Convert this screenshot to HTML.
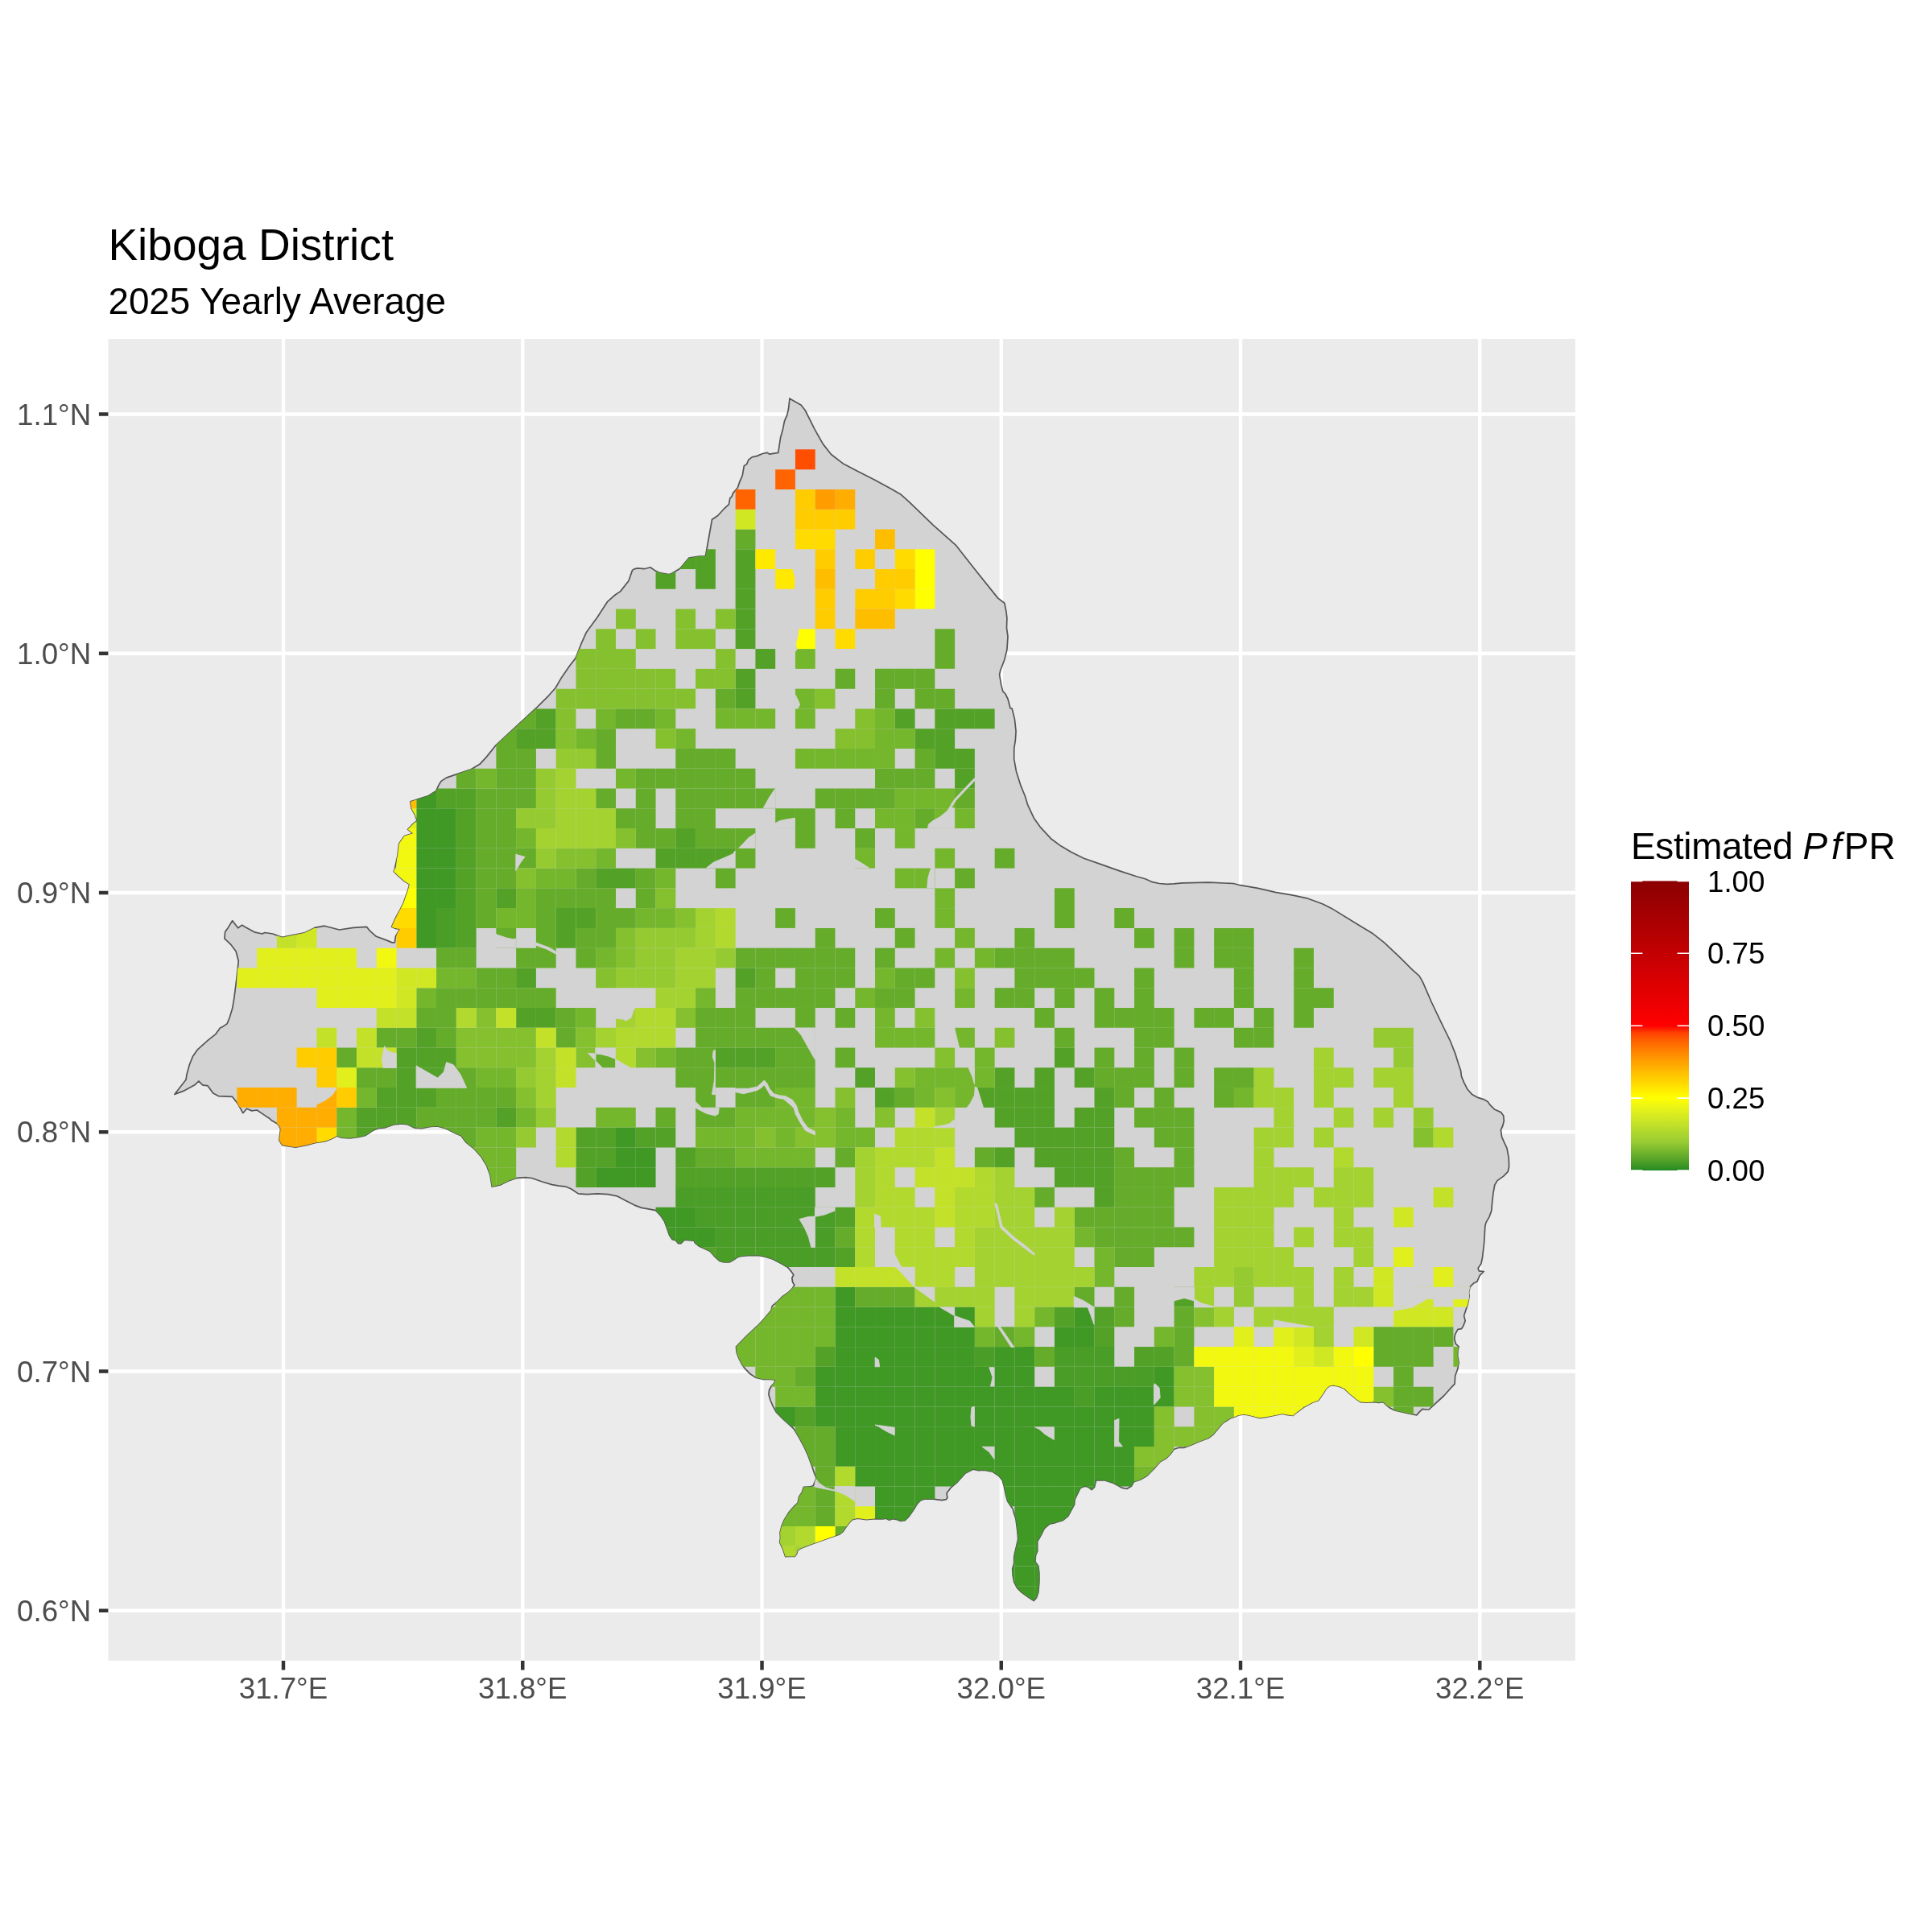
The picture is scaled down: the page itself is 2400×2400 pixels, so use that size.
<!DOCTYPE html><html><head><meta charset="utf-8"><title>Kiboga District</title>
<style>html,body{margin:0;padding:0;background:#fff}svg{display:block}text{font-family:"Liberation Sans",sans-serif;filter:grayscale(1)}</style></head><body>
<svg width="2400" height="2400" viewBox="0 0 2400 2400">
<defs><linearGradient id="lg" x1="0" y1="1" x2="0" y2="0">
<stop offset="0" stop-color="#228B22"/>
<stop offset="0.025" stop-color="#479B26"/>
<stop offset="0.05" stop-color="#64AC2A"/>
<stop offset="0.075" stop-color="#7FBC2E"/>
<stop offset="0.1" stop-color="#9ACD32"/>
<stop offset="0.125" stop-color="#ABD52E"/>
<stop offset="0.15" stop-color="#BCDE2A"/>
<stop offset="0.175" stop-color="#CDE625"/>
<stop offset="0.2" stop-color="#DEEE1D"/>
<stop offset="0.225" stop-color="#EEF713"/>
<stop offset="0.25" stop-color="#FFFF00"/>
<stop offset="0.275" stop-color="#FFED00"/>
<stop offset="0.3" stop-color="#FFDB00"/>
<stop offset="0.325" stop-color="#FFC800"/>
<stop offset="0.35" stop-color="#FFB500"/>
<stop offset="0.375" stop-color="#FFA100"/>
<stop offset="0.4" stop-color="#FF8D00"/>
<stop offset="0.425" stop-color="#FF7700"/>
<stop offset="0.45" stop-color="#FF5F00"/>
<stop offset="0.475" stop-color="#FF4100"/>
<stop offset="0.5" stop-color="#FF0000"/>
<stop offset="0.525" stop-color="#F90000"/>
<stop offset="0.55" stop-color="#F30001"/>
<stop offset="0.575" stop-color="#ED0001"/>
<stop offset="0.6" stop-color="#E70001"/>
<stop offset="0.625" stop-color="#E10001"/>
<stop offset="0.65" stop-color="#DB0001"/>
<stop offset="0.675" stop-color="#D50002"/>
<stop offset="0.7" stop-color="#CF0002"/>
<stop offset="0.725" stop-color="#C90002"/>
<stop offset="0.75" stop-color="#C30002"/>
<stop offset="0.775" stop-color="#BE0002"/>
<stop offset="0.8" stop-color="#B80002"/>
<stop offset="0.825" stop-color="#B20002"/>
<stop offset="0.85" stop-color="#AC0002"/>
<stop offset="0.875" stop-color="#A70002"/>
<stop offset="0.9" stop-color="#A10002"/>
<stop offset="0.925" stop-color="#9B0002"/>
<stop offset="0.95" stop-color="#960001"/>
<stop offset="0.975" stop-color="#900001"/>
<stop offset="1" stop-color="#8B0000"/>
</linearGradient>
<clipPath id="cp"><path d="M980.7 495.1 L995.2 503.2 L1000.4 510 L1011.8 532.8 L1022.2 551.4 L1032.5 564.5 L1047 575.7 L1065.6 585.6 L1086.3 595.9 L1107 607.3 L1119.5 614.6 L1129.8 623.9 L1158.8 651.8 L1187.8 677.7 L1210.6 706.7 L1239.5 742.9 L1247.8 749.2 L1249.9 759.5 L1250.9 767.8 L1250.5 780.2 L1252 790.6 L1250.9 807.1 L1247.8 819.5 L1242.7 833 L1241.6 838.2 L1243.7 850.6 L1245.8 858.9 L1248.9 862 L1252 868.2 L1255.1 880 L1257.1 880 L1260.4 893.1 L1262.1 908.3 L1261.4 919.2 L1259.7 930.1 L1259.7 943.2 L1262.5 958.4 L1268 975.9 L1273.4 989 L1276.7 999.9 L1284.3 1016.2 L1292 1027.1 L1306.1 1042.3 L1318.1 1051.1 L1331.2 1058.7 L1346.4 1066.3 L1368.2 1073.9 L1390 1081.6 L1411.8 1088.8 L1422.7 1091.8 L1431.4 1095.7 L1440.1 1097.5 L1449.9 1098.3 L1458 1097.9 L1468.9 1096.8 L1501.6 1096.2 L1532.1 1097.5 L1540.8 1099.7 L1562.6 1103.4 L1584.4 1108.4 L1606.2 1112.1 L1623.6 1115.8 L1643.2 1123 L1654.1 1128.4 L1686.8 1148.5 L1704.2 1158.9 L1719.5 1170.9 L1739.1 1189.4 L1754.4 1204.7 L1763.1 1212.3 L1767.4 1219.9 L1778.3 1245 L1789.2 1267.9 L1793.6 1277 L1801.2 1292.3 L1807.7 1308.6 L1812.1 1322.8 L1814.7 1330.4 L1815.4 1336.9 L1818.6 1344.6 L1823 1353.3 L1828.5 1359.4 L1835 1363.1 L1843.7 1365.9 L1848.1 1368.5 L1851.3 1372.9 L1856.8 1378.3 L1864.4 1381.6 L1867.7 1386 L1868.3 1392.5 L1866.6 1399 L1864.4 1403.4 L1865.5 1412.1 L1868.8 1419.7 L1872 1426.3 L1874.2 1438.3 L1874.6 1449.2 L1873.1 1455.7 L1867.7 1461.1 L1860 1466.6 L1856.8 1472 L1855 1481.8 L1853.5 1494.9 L1852.9 1503.6 L1850.2 1511.3 L1845.9 1518.9 L1844.8 1523.2 L1843.7 1542.9 L1841.5 1562.5 L1839.8 1570.1 L1836.1 1575.5 L1837.2 1578.8 L1843.3 1579.5 L1838.3 1584.3 L1835 1591.9 L1830.6 1594.1 L1826.3 1598.4 L1824.5 1605 L1825.2 1610.4 L1823 1621.3 L1820.8 1627.8 L1818.6 1634.4 L1820.2 1640.9 L1817.6 1647.5 L1815.4 1650.7 L1811 1651.4 L1807.7 1657.3 L1806.7 1662.7 L1808.2 1669.2 L1812.1 1672.9 L1811 1677.4 L1810.6 1683.9 L1812.1 1692.6 L1810.6 1701.3 L1807.7 1709 L1807.1 1719.2 L1802.3 1724.2 L1793.6 1734 L1782.7 1743.8 L1775.1 1751 L1771.8 1751 L1767 1750.4 L1763.1 1754.1 L1759.8 1758 L1747.8 1755.4 L1732.6 1751.9 L1727.1 1749.3 L1722.8 1746 L1718.4 1741.6 L1713 1742.3 L1706.4 1741.6 L1697.7 1742.1 L1690.1 1741.6 L1684.6 1737.9 L1675.9 1730.7 L1670.5 1725.3 L1662.8 1722 L1656.3 1720.9 L1651.9 1721.4 L1647.6 1724.9 L1643.2 1731.8 L1637.8 1739.5 L1630.2 1742.3 L1619.3 1748.2 L1610.5 1754.7 L1606.2 1758.4 L1599.6 1757.6 L1593.1 1756.2 L1582.2 1758.4 L1571.3 1760.6 L1564.8 1761.3 L1558.2 1759.7 L1551.7 1758 L1545.2 1756.9 L1538.6 1758 L1527.7 1762.3 L1519 1767.8 L1512.5 1775.4 L1507 1782 L1500.5 1786.8 L1489.6 1790.7 L1479.8 1795 L1471.1 1798.3 L1464.5 1798.3 L1458 1800.5 L1454.3 1805.9 L1448.9 1811.4 L1441.2 1815.7 L1433.6 1824.4 L1424.9 1833.2 L1416.2 1838.2 L1408.5 1840.8 L1405.3 1846.2 L1399.8 1849.5 L1394.4 1848.4 L1383.5 1842.5 L1372.6 1839 L1361.7 1838.6 L1359.5 1847.3 L1356.2 1850.6 L1351.9 1847.3 L1347.5 1846.2 L1342.1 1848.4 L1335.1 1862.6 L1334.5 1869.1 L1326.8 1883.3 L1320.3 1888.7 L1311.6 1891.3 L1303.9 1893.1 L1297.4 1898.5 L1293 1907.3 L1288.7 1914.9 L1288.7 1926.9 L1286.5 1932.3 L1285.9 1939.9 L1289.8 1945.4 L1290.9 1954.1 L1290.9 1965 L1289.8 1978.1 L1287.6 1984.6 L1284.3 1988.5 L1276.7 1983.5 L1269.1 1978.1 L1263.6 1972.6 L1259.7 1965 L1258.2 1957.4 L1257.7 1948.7 L1259.7 1942.1 L1259.7 1934.5 L1260.4 1930.1 L1262.5 1921.4 L1264.7 1911.6 L1263.6 1899.6 L1261.9 1886.6 L1259.3 1878.9 L1258.2 1874.6 L1256 1871.3 L1251.6 1864.8 L1249.5 1857.1 L1247.3 1846.2 L1245.1 1838.6 L1240.7 1833.2 L1233.1 1828.2 L1222.2 1826.2 L1215.7 1826.6 L1209.2 1825.1 L1199.3 1829.9 L1189.5 1840.8 L1180.8 1848.4 L1176 1855 L1176.9 1860.4 L1175.4 1862.6 L1169.9 1863.7 L1159 1862.1 L1148.1 1862.1 L1143.8 1863.7 L1139.4 1868 L1134 1876.7 L1128.5 1884.4 L1124.2 1888.7 L1118.7 1889.4 L1114.4 1887.6 L1108.9 1886.6 L1104.6 1888.3 L1100.2 1886.1 L1096.9 1887 L1087.1 1886.6 L1076.2 1887.6 L1065.3 1886.1 L1058.8 1887.6 L1055.5 1890.9 L1051.2 1896.4 L1046.8 1902.9 L1042.4 1906.2 L1037 1907.9 L1023.5 1912.7 L1008.2 1918.2 L995.2 1923.2 L990.8 1925.8 L989.7 1930.1 L987.5 1933.4 L982.1 1933.4 L975.6 1933.6 L974.5 1930.1 L972.3 1923.6 L968.6 1916 L969.5 1910.5 L969 1904 L971.2 1895.3 L974.5 1887.6 L979.9 1878.9 L986.5 1871.3 L991.2 1866.9 L992.6 1859.3 L996.3 1853.9 L998.4 1847.3 L1007.2 1846.9 L1010.4 1845.2 L1012.2 1840.8 L1014.3 1836.4 L1011.5 1829.9 L1008.2 1820.1 L1003.9 1808.1 L999.5 1798.3 L993 1786.3 L986.5 1775.4 L982.1 1771.1 L973.4 1763.4 L964.7 1754.7 L960.3 1747.1 L957 1739.5 L954.9 1732.3 L955.5 1727 L958.1 1722 L962 1717.7 L962.9 1714 L955.9 1713.5 L947.2 1713.3 L938.5 1711.1 L932 1706.8 L925.4 1700.2 L921.1 1693.7 L917.8 1687.2 L915 1679.5 L914.5 1673 L921.1 1666 L929.8 1657.3 L942.9 1645.3 L951.6 1635.5 L958.1 1627.8 L959.2 1622.4 L964.7 1618 L972.3 1610.4 L978.8 1606 L984.3 1600.6 L986.9 1596.2 L984.7 1593 L983.8 1587.5 L985.8 1583.8 L983.2 1579.9 L978.8 1574.5 L971.2 1570.1 L960.3 1564.2 L951.6 1561.4 L942.9 1559.6 L932 1559.4 L921.1 1560.3 L915.6 1562 L910.2 1565.7 L905.8 1567.9 L899.3 1567.9 L893.8 1566.4 L887.3 1560.3 L881.9 1554.2 L868.8 1548.3 L863.3 1543.9 L862.2 1541.1 L855.7 1540.7 L850.3 1540.2 L845.9 1544.6 L842.6 1544.6 L839.4 1540.7 L835 1539.6 L831.7 1534.6 L828.5 1525.4 L825.2 1516.7 L820.8 1510.2 L814.7 1503.6 L805.6 1501.9 L796.9 1500.4 L788.2 1497.1 L777.3 1491.6 L766.4 1485.8 L755.5 1483.6 L742.4 1482.9 L729.3 1483.6 L718.4 1482.9 L709.7 1477 L703.2 1474.2 L694.4 1473.1 L685.7 1471.6 L672.7 1467.7 L660.7 1463.5 L653 1462.7 L642.1 1463.3 L632.3 1466.6 L622.5 1471.6 L616 1473.1 L611.2 1474.2 L609 1460 L604.7 1448.1 L598.1 1437.2 L589.4 1427.4 L578.5 1418.6 L573.1 1411 L565.5 1407.7 L554.6 1402.3 L543.7 1399 L534.9 1399.5 L524 1401.6 L515.3 1401.2 L506.6 1396.9 L500.1 1395.8 L489.2 1396.9 L478.3 1400.8 L469.6 1401.6 L463 1404.5 L454.3 1410.4 L445.6 1412.5 L434.7 1413.8 L423.8 1413.2 L418.4 1411 L412.9 1414.3 L404.2 1417.6 L391.1 1419.7 L380.2 1422.6 L367.2 1425.2 L350.8 1422.6 L346.9 1416.5 L348.6 1402.3 L345.4 1396.4 L337.7 1392.1 L334.5 1389.2 L327.9 1384.9 L319.2 1379 L312.7 1379.9 L306.6 1377.2 L301.8 1382.7 L295.2 1370.7 L288.7 1362.4 L271.3 1361.6 L264.7 1358.1 L258.2 1348.9 L251.7 1347.8 L246.9 1343 L241.9 1347.8 L227.7 1355.4 L216.8 1359.4 L231 1341.3 L232 1334.7 L235.3 1322.8 L239.7 1311.9 L245.1 1304.2 L258.2 1292.3 L268 1284.6 L273.4 1277 L277.4 1274.9 L282.2 1271.6 L285.4 1263.5 L288.7 1252.6 L290.9 1239.6 L294.2 1213.4 L296.3 1193.8 L293.1 1181.8 L286.5 1173.1 L278.9 1165.9 L279.6 1157.8 L283.3 1152.4 L288.7 1143.7 L295.7 1152.8 L300.7 1149.1 L304 1151.3 L315.9 1157.8 L325.7 1160 L329 1158.5 L338.8 1160 L350.2 1164.4 L378 1158.9 L391.1 1152.4 L403.1 1150.2 L421.6 1155 L439.1 1152.4 L455.4 1151.3 L459.8 1156.7 L467.4 1163.3 L480.5 1168.1 L487 1170.9 L490.3 1170.9 L491.4 1163.3 L496.8 1154.1 L491.4 1153.5 L486.6 1151.3 L491.4 1140.4 L496.8 1130.6 L501.2 1121.9 L506.6 1106.6 L508.8 1098.6 L502.3 1094.6 L495.7 1088.8 L489.2 1082.7 L490.3 1079.4 L494 1063 L495.7 1048.2 L502.3 1038.6 L513.2 1035.2 L506.6 1030.4 L513.2 1023.4 L518.2 1019.5 L515.3 1011.8 L511 1004.2 L509.9 995.9 L517.5 993.3 L532.3 988.5 L541.9 982.4 L544.7 975.9 L548 970.4 L554.6 966.1 L565.5 962.4 L585.1 955.8 L596 949.3 L604.7 939.9 L616 925.8 L665.7 880 L671.6 874.1 L681.4 864.3 L690.1 854.5 L697.7 841.4 L707.5 827.2 L715.2 817.4 L722.8 797.8 L728.2 785.8 L742.4 766.2 L754.4 747.7 L764.2 739 L770.7 734.6 L781 721.5 L785.5 708.4 L788.2 706.7 L792.5 705.8 L800.1 706.7 L807.8 704.7 L813.2 708.4 L819.7 711.7 L830.6 713.5 L833.9 712.8 L844.8 706.3 L855.7 693.2 L868.8 691 L876.4 691 L884.5 645.3 L886.2 644.2 L891.7 640.5 L899.3 632.2 L905.4 626.7 L906.9 618.7 L909.1 616.9 L910.6 612.6 L916.3 606 L918.9 598.4 L922.2 590.8 L924.3 578.8 L927.6 576.6 L929.8 571.2 L934.2 567.9 L940.7 566.4 L947.2 563.5 L953.3 562.4 L955.9 564.2 L966.8 562.4 L969.5 543.9 L972.3 534.1 L974.5 523.2 L977.7 515.6 L979.5 508 L981 494.9Z"/></clipPath>
<clipPath id="pp"><rect x="134.4" y="421" width="1822.5" height="1641.9"/></clipPath>
</defs>
<rect width="2400" height="2400" fill="#fff"/>
<rect x="134.4" y="421" width="1822.5" height="1641.9" fill="#EBEBEB"/>
<path d="M352 421V2062.9M134.4 514.4H1956.9M649.26 421V2062.9M134.4 811.66H1956.9M946.52 421V2062.9M134.4 1108.92H1956.9M1243.78 421V2062.9M134.4 1406.18H1956.9M1541.04 421V2062.9M134.4 1703.44H1956.9M1838.3 421V2062.9M134.4 2000.7H1956.9" stroke="#fff" stroke-width="4.45" fill="none"/>
<path d="M980.7 495.1 L995.2 503.2 L1000.4 510 L1011.8 532.8 L1022.2 551.4 L1032.5 564.5 L1047 575.7 L1065.6 585.6 L1086.3 595.9 L1107 607.3 L1119.5 614.6 L1129.8 623.9 L1158.8 651.8 L1187.8 677.7 L1210.6 706.7 L1239.5 742.9 L1247.8 749.2 L1249.9 759.5 L1250.9 767.8 L1250.5 780.2 L1252 790.6 L1250.9 807.1 L1247.8 819.5 L1242.7 833 L1241.6 838.2 L1243.7 850.6 L1245.8 858.9 L1248.9 862 L1252 868.2 L1255.1 880 L1257.1 880 L1260.4 893.1 L1262.1 908.3 L1261.4 919.2 L1259.7 930.1 L1259.7 943.2 L1262.5 958.4 L1268 975.9 L1273.4 989 L1276.7 999.9 L1284.3 1016.2 L1292 1027.1 L1306.1 1042.3 L1318.1 1051.1 L1331.2 1058.7 L1346.4 1066.3 L1368.2 1073.9 L1390 1081.6 L1411.8 1088.8 L1422.7 1091.8 L1431.4 1095.7 L1440.1 1097.5 L1449.9 1098.3 L1458 1097.9 L1468.9 1096.8 L1501.6 1096.2 L1532.1 1097.5 L1540.8 1099.7 L1562.6 1103.4 L1584.4 1108.4 L1606.2 1112.1 L1623.6 1115.8 L1643.2 1123 L1654.1 1128.4 L1686.8 1148.5 L1704.2 1158.9 L1719.5 1170.9 L1739.1 1189.4 L1754.4 1204.7 L1763.1 1212.3 L1767.4 1219.9 L1778.3 1245 L1789.2 1267.9 L1793.6 1277 L1801.2 1292.3 L1807.7 1308.6 L1812.1 1322.8 L1814.7 1330.4 L1815.4 1336.9 L1818.6 1344.6 L1823 1353.3 L1828.5 1359.4 L1835 1363.1 L1843.7 1365.9 L1848.1 1368.5 L1851.3 1372.9 L1856.8 1378.3 L1864.4 1381.6 L1867.7 1386 L1868.3 1392.5 L1866.6 1399 L1864.4 1403.4 L1865.5 1412.1 L1868.8 1419.7 L1872 1426.3 L1874.2 1438.3 L1874.6 1449.2 L1873.1 1455.7 L1867.7 1461.1 L1860 1466.6 L1856.8 1472 L1855 1481.8 L1853.5 1494.9 L1852.9 1503.6 L1850.2 1511.3 L1845.9 1518.9 L1844.8 1523.2 L1843.7 1542.9 L1841.5 1562.5 L1839.8 1570.1 L1836.1 1575.5 L1837.2 1578.8 L1843.3 1579.5 L1838.3 1584.3 L1835 1591.9 L1830.6 1594.1 L1826.3 1598.4 L1824.5 1605 L1825.2 1610.4 L1823 1621.3 L1820.8 1627.8 L1818.6 1634.4 L1820.2 1640.9 L1817.6 1647.5 L1815.4 1650.7 L1811 1651.4 L1807.7 1657.3 L1806.7 1662.7 L1808.2 1669.2 L1812.1 1672.9 L1811 1677.4 L1810.6 1683.9 L1812.1 1692.6 L1810.6 1701.3 L1807.7 1709 L1807.1 1719.2 L1802.3 1724.2 L1793.6 1734 L1782.7 1743.8 L1775.1 1751 L1771.8 1751 L1767 1750.4 L1763.1 1754.1 L1759.8 1758 L1747.8 1755.4 L1732.6 1751.9 L1727.1 1749.3 L1722.8 1746 L1718.4 1741.6 L1713 1742.3 L1706.4 1741.6 L1697.7 1742.1 L1690.1 1741.6 L1684.6 1737.9 L1675.9 1730.7 L1670.5 1725.3 L1662.8 1722 L1656.3 1720.9 L1651.9 1721.4 L1647.6 1724.9 L1643.2 1731.8 L1637.8 1739.5 L1630.2 1742.3 L1619.3 1748.2 L1610.5 1754.7 L1606.2 1758.4 L1599.6 1757.6 L1593.1 1756.2 L1582.2 1758.4 L1571.3 1760.6 L1564.8 1761.3 L1558.2 1759.7 L1551.7 1758 L1545.2 1756.9 L1538.6 1758 L1527.7 1762.3 L1519 1767.8 L1512.5 1775.4 L1507 1782 L1500.5 1786.8 L1489.6 1790.7 L1479.8 1795 L1471.1 1798.3 L1464.5 1798.3 L1458 1800.5 L1454.3 1805.9 L1448.9 1811.4 L1441.2 1815.7 L1433.6 1824.4 L1424.9 1833.2 L1416.2 1838.2 L1408.5 1840.8 L1405.3 1846.2 L1399.8 1849.5 L1394.4 1848.4 L1383.5 1842.5 L1372.6 1839 L1361.7 1838.6 L1359.5 1847.3 L1356.2 1850.6 L1351.9 1847.3 L1347.5 1846.2 L1342.1 1848.4 L1335.1 1862.6 L1334.5 1869.1 L1326.8 1883.3 L1320.3 1888.7 L1311.6 1891.3 L1303.9 1893.1 L1297.4 1898.5 L1293 1907.3 L1288.7 1914.9 L1288.7 1926.9 L1286.5 1932.3 L1285.9 1939.9 L1289.8 1945.4 L1290.9 1954.1 L1290.9 1965 L1289.8 1978.1 L1287.6 1984.6 L1284.3 1988.5 L1276.7 1983.5 L1269.1 1978.1 L1263.6 1972.6 L1259.7 1965 L1258.2 1957.4 L1257.7 1948.7 L1259.7 1942.1 L1259.7 1934.5 L1260.4 1930.1 L1262.5 1921.4 L1264.7 1911.6 L1263.6 1899.6 L1261.9 1886.6 L1259.3 1878.9 L1258.2 1874.6 L1256 1871.3 L1251.6 1864.8 L1249.5 1857.1 L1247.3 1846.2 L1245.1 1838.6 L1240.7 1833.2 L1233.1 1828.2 L1222.2 1826.2 L1215.7 1826.6 L1209.2 1825.1 L1199.3 1829.9 L1189.5 1840.8 L1180.8 1848.4 L1176 1855 L1176.9 1860.4 L1175.4 1862.6 L1169.9 1863.7 L1159 1862.1 L1148.1 1862.1 L1143.8 1863.7 L1139.4 1868 L1134 1876.7 L1128.5 1884.4 L1124.2 1888.7 L1118.7 1889.4 L1114.4 1887.6 L1108.9 1886.6 L1104.6 1888.3 L1100.2 1886.1 L1096.9 1887 L1087.1 1886.6 L1076.2 1887.6 L1065.3 1886.1 L1058.8 1887.6 L1055.5 1890.9 L1051.2 1896.4 L1046.8 1902.9 L1042.4 1906.2 L1037 1907.9 L1023.5 1912.7 L1008.2 1918.2 L995.2 1923.2 L990.8 1925.8 L989.7 1930.1 L987.5 1933.4 L982.1 1933.4 L975.6 1933.6 L974.5 1930.1 L972.3 1923.6 L968.6 1916 L969.5 1910.5 L969 1904 L971.2 1895.3 L974.5 1887.6 L979.9 1878.9 L986.5 1871.3 L991.2 1866.9 L992.6 1859.3 L996.3 1853.9 L998.4 1847.3 L1007.2 1846.9 L1010.4 1845.2 L1012.2 1840.8 L1014.3 1836.4 L1011.5 1829.9 L1008.2 1820.1 L1003.9 1808.1 L999.5 1798.3 L993 1786.3 L986.5 1775.4 L982.1 1771.1 L973.4 1763.4 L964.7 1754.7 L960.3 1747.1 L957 1739.5 L954.9 1732.3 L955.5 1727 L958.1 1722 L962 1717.7 L962.9 1714 L955.9 1713.5 L947.2 1713.3 L938.5 1711.1 L932 1706.8 L925.4 1700.2 L921.1 1693.7 L917.8 1687.2 L915 1679.5 L914.5 1673 L921.1 1666 L929.8 1657.3 L942.9 1645.3 L951.6 1635.5 L958.1 1627.8 L959.2 1622.4 L964.7 1618 L972.3 1610.4 L978.8 1606 L984.3 1600.6 L986.9 1596.2 L984.7 1593 L983.8 1587.5 L985.8 1583.8 L983.2 1579.9 L978.8 1574.5 L971.2 1570.1 L960.3 1564.2 L951.6 1561.4 L942.9 1559.6 L932 1559.4 L921.1 1560.3 L915.6 1562 L910.2 1565.7 L905.8 1567.9 L899.3 1567.9 L893.8 1566.4 L887.3 1560.3 L881.9 1554.2 L868.8 1548.3 L863.3 1543.9 L862.2 1541.1 L855.7 1540.7 L850.3 1540.2 L845.9 1544.6 L842.6 1544.6 L839.4 1540.7 L835 1539.6 L831.7 1534.6 L828.5 1525.4 L825.2 1516.7 L820.8 1510.2 L814.7 1503.6 L805.6 1501.9 L796.9 1500.4 L788.2 1497.1 L777.3 1491.6 L766.4 1485.8 L755.5 1483.6 L742.4 1482.9 L729.3 1483.6 L718.4 1482.9 L709.7 1477 L703.2 1474.2 L694.4 1473.1 L685.7 1471.6 L672.7 1467.7 L660.7 1463.5 L653 1462.7 L642.1 1463.3 L632.3 1466.6 L622.5 1471.6 L616 1473.1 L611.2 1474.2 L609 1460 L604.7 1448.1 L598.1 1437.2 L589.4 1427.4 L578.5 1418.6 L573.1 1411 L565.5 1407.7 L554.6 1402.3 L543.7 1399 L534.9 1399.5 L524 1401.6 L515.3 1401.2 L506.6 1396.9 L500.1 1395.8 L489.2 1396.9 L478.3 1400.8 L469.6 1401.6 L463 1404.5 L454.3 1410.4 L445.6 1412.5 L434.7 1413.8 L423.8 1413.2 L418.4 1411 L412.9 1414.3 L404.2 1417.6 L391.1 1419.7 L380.2 1422.6 L367.2 1425.2 L350.8 1422.6 L346.9 1416.5 L348.6 1402.3 L345.4 1396.4 L337.7 1392.1 L334.5 1389.2 L327.9 1384.9 L319.2 1379 L312.7 1379.9 L306.6 1377.2 L301.8 1382.7 L295.2 1370.7 L288.7 1362.4 L271.3 1361.6 L264.7 1358.1 L258.2 1348.9 L251.7 1347.8 L246.9 1343 L241.9 1347.8 L227.7 1355.4 L216.8 1359.4 L231 1341.3 L232 1334.7 L235.3 1322.8 L239.7 1311.9 L245.1 1304.2 L258.2 1292.3 L268 1284.6 L273.4 1277 L277.4 1274.9 L282.2 1271.6 L285.4 1263.5 L288.7 1252.6 L290.9 1239.6 L294.2 1213.4 L296.3 1193.8 L293.1 1181.8 L286.5 1173.1 L278.9 1165.9 L279.6 1157.8 L283.3 1152.4 L288.7 1143.7 L295.7 1152.8 L300.7 1149.1 L304 1151.3 L315.9 1157.8 L325.7 1160 L329 1158.5 L338.8 1160 L350.2 1164.4 L378 1158.9 L391.1 1152.4 L403.1 1150.2 L421.6 1155 L439.1 1152.4 L455.4 1151.3 L459.8 1156.7 L467.4 1163.3 L480.5 1168.1 L487 1170.9 L490.3 1170.9 L491.4 1163.3 L496.8 1154.1 L491.4 1153.5 L486.6 1151.3 L491.4 1140.4 L496.8 1130.6 L501.2 1121.9 L506.6 1106.6 L508.8 1098.6 L502.3 1094.6 L495.7 1088.8 L489.2 1082.7 L490.3 1079.4 L494 1063 L495.7 1048.2 L502.3 1038.6 L513.2 1035.2 L506.6 1030.4 L513.2 1023.4 L518.2 1019.5 L515.3 1011.8 L511 1004.2 L509.9 995.9 L517.5 993.3 L532.3 988.5 L541.9 982.4 L544.7 975.9 L548 970.4 L554.6 966.1 L565.5 962.4 L585.1 955.8 L596 949.3 L604.7 939.9 L616 925.8 L665.7 880 L671.6 874.1 L681.4 864.3 L690.1 854.5 L697.7 841.4 L707.5 827.2 L715.2 817.4 L722.8 797.8 L728.2 785.8 L742.4 766.2 L754.4 747.7 L764.2 739 L770.7 734.6 L781 721.5 L785.5 708.4 L788.2 706.7 L792.5 705.8 L800.1 706.7 L807.8 704.7 L813.2 708.4 L819.7 711.7 L830.6 713.5 L833.9 712.8 L844.8 706.3 L855.7 693.2 L868.8 691 L876.4 691 L884.5 645.3 L886.2 644.2 L891.7 640.5 L899.3 632.2 L905.4 626.7 L906.9 618.7 L909.1 616.9 L910.6 612.6 L916.3 606 L918.9 598.4 L922.2 590.8 L924.3 578.8 L927.6 576.6 L929.8 571.2 L934.2 567.9 L940.7 566.4 L947.2 563.5 L953.3 562.4 L955.9 564.2 L966.8 562.4 L969.5 543.9 L972.3 534.1 L974.5 523.2 L977.7 515.6 L979.5 508 L981 494.9Z" fill="#D3D3D3" stroke="#555555" stroke-width="1.7" stroke-linejoin="round"/>
<g clip-path="url(#cp)">
<g fill="#4A9D26"><path d="M542.05 1128.12h24.77v24.77h-24.77z"/><path d="M542.05 1152.89h24.77v24.77h-24.77z"/><path d="M839.31 1474.92h24.77v24.77h-24.77z"/><path d="M864.08 1474.92h24.77v24.77h-24.77z"/><path d="M888.85 1474.92h24.77v24.77h-24.77z"/><path d="M913.63 1474.92h24.77v24.77h-24.77z"/><path d="M938.4 1474.92h24.77v24.77h-24.77z"/><path d="M963.17 1474.92h24.77v24.77h-24.77z"/><path d="M987.94 1474.92h24.77v24.77h-24.77z"/><path d="M864.08 1499.69h24.77v24.77h-24.77z"/><path d="M888.85 1499.69h24.77v24.77h-24.77z"/><path d="M913.63 1499.69h24.77v24.77h-24.77z"/><path d="M938.4 1499.69h24.77v24.77h-24.77z"/><path d="M963.17 1499.69h24.77v24.77h-24.77z"/><path d="M987.94 1499.69h24.77v24.77h-24.77z"/><path d="M1012.71 1499.69h24.77v24.77h-24.77z"/><path d="M888.85 1524.46h24.77v24.77h-24.77z"/><path d="M913.63 1524.46h24.77v24.77h-24.77z"/><path d="M938.4 1524.46h24.77v24.77h-24.77z"/><path d="M963.17 1524.46h24.77v24.77h-24.77z"/><path d="M987.94 1524.46h24.77v24.77h-24.77z"/><path d="M1012.71 1524.46h24.77v24.77h-24.77z"/><path d="M888.85 1549.24h24.77v24.77h-24.77z"/><path d="M913.63 1549.24h24.77v24.77h-24.77z"/><path d="M938.4 1549.24h24.77v24.77h-24.77z"/><path d="M963.17 1549.24h24.77v24.77h-24.77z"/><path d="M987.94 1549.24h24.77v24.77h-24.77z"/><path d="M1012.71 1549.24h24.77v24.77h-24.77z"/><path d="M1210.88 1673.1h24.77v24.77h-24.77z"/><path d="M1309.97 1673.1h24.77v24.77h-24.77z"/><path d="M1334.74 1673.1h24.77v24.77h-24.77z"/><path d="M1359.51 1673.1h24.77v24.77h-24.77z"/><path d="M1309.97 1697.87h24.77v24.77h-24.77z"/><path d="M1334.74 1697.87h24.77v24.77h-24.77z"/><path d="M1359.51 1697.87h24.77v24.77h-24.77z"/><path d="M1384.29 1697.87h24.77v24.77h-24.77z"/><path d="M1409.06 1697.87h24.77v24.77h-24.77z"/><path d="M1334.74 1722.64h24.77v24.77h-24.77z"/></g>
<g fill="#409825"><path d="M517.28 979.49h24.77v24.77h-24.77z"/><path d="M517.28 1004.26h24.77v24.77h-24.77z"/><path d="M542.05 1004.26h24.77v24.77h-24.77z"/><path d="M517.28 1029.03h24.77v24.77h-24.77z"/><path d="M542.05 1029.03h24.77v24.77h-24.77z"/><path d="M517.28 1053.8h24.77v24.77h-24.77z"/><path d="M542.05 1053.8h24.77v24.77h-24.77z"/><path d="M517.28 1078.58h24.77v24.77h-24.77z"/><path d="M542.05 1078.58h24.77v24.77h-24.77z"/><path d="M517.28 1103.35h24.77v24.77h-24.77z"/><path d="M542.05 1103.35h24.77v24.77h-24.77z"/><path d="M517.28 1128.12h24.77v24.77h-24.77z"/><path d="M517.28 1152.89h24.77v24.77h-24.77z"/><path d="M765 1400.61h24.77v24.77h-24.77z"/><path d="M765 1425.38h24.77v24.77h-24.77z"/><path d="M789.77 1425.38h24.77v24.77h-24.77z"/><path d="M740.22 1450.15h24.77v24.77h-24.77z"/><path d="M765 1450.15h24.77v24.77h-24.77z"/><path d="M789.77 1450.15h24.77v24.77h-24.77z"/><path d="M814.54 1499.69h24.77v24.77h-24.77z"/><path d="M839.31 1499.69h24.77v24.77h-24.77z"/><path d="M814.54 1524.46h24.77v24.77h-24.77z"/><path d="M839.31 1524.46h24.77v24.77h-24.77z"/><path d="M864.08 1524.46h24.77v24.77h-24.77z"/><path d="M1037.48 1598.78h24.77v24.77h-24.77z"/><path d="M1037.48 1623.55h24.77v24.77h-24.77z"/><path d="M1062.26 1623.55h24.77v24.77h-24.77z"/><path d="M1087.03 1623.55h24.77v24.77h-24.77z"/><path d="M1111.8 1623.55h24.77v24.77h-24.77z"/><path d="M1136.57 1623.55h24.77v24.77h-24.77z"/><path d="M1161.34 1623.55h24.77v24.77h-24.77z"/><path d="M1186.11 1623.55h24.77v24.77h-24.77z"/><path d="M1334.74 1623.55h24.77v24.77h-24.77z"/><path d="M1037.48 1648.32h24.77v24.77h-24.77z"/><path d="M1062.26 1648.32h24.77v24.77h-24.77z"/><path d="M1087.03 1648.32h24.77v24.77h-24.77z"/><path d="M1111.8 1648.32h24.77v24.77h-24.77z"/><path d="M1136.57 1648.32h24.77v24.77h-24.77z"/><path d="M1161.34 1648.32h24.77v24.77h-24.77z"/><path d="M1186.11 1648.32h24.77v24.77h-24.77z"/><path d="M1309.97 1648.32h24.77v24.77h-24.77z"/><path d="M1334.74 1648.32h24.77v24.77h-24.77z"/><path d="M1037.48 1673.1h24.77v24.77h-24.77z"/><path d="M1062.26 1673.1h24.77v24.77h-24.77z"/><path d="M1087.03 1673.1h24.77v24.77h-24.77z"/><path d="M1111.8 1673.1h24.77v24.77h-24.77z"/><path d="M1136.57 1673.1h24.77v24.77h-24.77z"/><path d="M1161.34 1673.1h24.77v24.77h-24.77z"/><path d="M1186.11 1673.1h24.77v24.77h-24.77z"/><path d="M1235.66 1673.1h24.77v24.77h-24.77z"/><path d="M1260.43 1673.1h24.77v24.77h-24.77z"/><path d="M1012.71 1697.87h24.77v24.77h-24.77z"/><path d="M1037.48 1697.87h24.77v24.77h-24.77z"/><path d="M1062.26 1697.87h24.77v24.77h-24.77z"/><path d="M1087.03 1697.87h24.77v24.77h-24.77z"/><path d="M1111.8 1697.87h24.77v24.77h-24.77z"/><path d="M1136.57 1697.87h24.77v24.77h-24.77z"/><path d="M1161.34 1697.87h24.77v24.77h-24.77z"/><path d="M1186.11 1697.87h24.77v24.77h-24.77z"/><path d="M1210.88 1697.87h24.77v24.77h-24.77z"/><path d="M1235.66 1697.87h24.77v24.77h-24.77z"/><path d="M1260.43 1697.87h24.77v24.77h-24.77z"/><path d="M1433.83 1697.87h24.77v24.77h-24.77z"/><path d="M1012.71 1722.64h24.77v24.77h-24.77z"/><path d="M1037.48 1722.64h24.77v24.77h-24.77z"/><path d="M1062.26 1722.64h24.77v24.77h-24.77z"/><path d="M1087.03 1722.64h24.77v24.77h-24.77z"/><path d="M1111.8 1722.64h24.77v24.77h-24.77z"/><path d="M1136.57 1722.64h24.77v24.77h-24.77z"/><path d="M1161.34 1722.64h24.77v24.77h-24.77z"/><path d="M1186.11 1722.64h24.77v24.77h-24.77z"/><path d="M1210.88 1722.64h24.77v24.77h-24.77z"/><path d="M1235.66 1722.64h24.77v24.77h-24.77z"/><path d="M1260.43 1722.64h24.77v24.77h-24.77z"/><path d="M1285.2 1722.64h24.77v24.77h-24.77z"/><path d="M1309.97 1722.64h24.77v24.77h-24.77z"/><path d="M1359.51 1722.64h24.77v24.77h-24.77z"/><path d="M1384.29 1722.64h24.77v24.77h-24.77z"/><path d="M1409.06 1722.64h24.77v24.77h-24.77z"/><path d="M1433.83 1722.64h24.77v24.77h-24.77z"/><path d="M963.17 1747.41h24.77v24.77h-24.77z"/><path d="M1012.71 1747.41h24.77v24.77h-24.77z"/><path d="M1037.48 1747.41h24.77v24.77h-24.77z"/><path d="M1062.26 1747.41h24.77v24.77h-24.77z"/><path d="M1087.03 1747.41h24.77v24.77h-24.77z"/><path d="M1111.8 1747.41h24.77v24.77h-24.77z"/><path d="M1136.57 1747.41h24.77v24.77h-24.77z"/><path d="M1161.34 1747.41h24.77v24.77h-24.77z"/><path d="M1186.11 1747.41h24.77v24.77h-24.77z"/><path d="M1210.88 1747.41h24.77v24.77h-24.77z"/><path d="M1235.66 1747.41h24.77v24.77h-24.77z"/><path d="M1260.43 1747.41h24.77v24.77h-24.77z"/><path d="M1285.2 1747.41h24.77v24.77h-24.77z"/><path d="M1309.97 1747.41h24.77v24.77h-24.77z"/><path d="M1334.74 1747.41h24.77v24.77h-24.77z"/><path d="M1359.51 1747.41h24.77v24.77h-24.77z"/><path d="M1384.29 1747.41h24.77v24.77h-24.77z"/><path d="M1409.06 1747.41h24.77v24.77h-24.77z"/><path d="M1037.48 1772.18h24.77v24.77h-24.77z"/><path d="M1062.26 1772.18h24.77v24.77h-24.77z"/><path d="M1087.03 1772.18h24.77v24.77h-24.77z"/><path d="M1111.8 1772.18h24.77v24.77h-24.77z"/><path d="M1136.57 1772.18h24.77v24.77h-24.77z"/><path d="M1161.34 1772.18h24.77v24.77h-24.77z"/><path d="M1186.11 1772.18h24.77v24.77h-24.77z"/><path d="M1210.88 1772.18h24.77v24.77h-24.77z"/><path d="M1235.66 1772.18h24.77v24.77h-24.77z"/><path d="M1260.43 1772.18h24.77v24.77h-24.77z"/><path d="M1285.2 1772.18h24.77v24.77h-24.77z"/><path d="M1309.97 1772.18h24.77v24.77h-24.77z"/><path d="M1334.74 1772.18h24.77v24.77h-24.77z"/><path d="M1359.51 1772.18h24.77v24.77h-24.77z"/><path d="M1384.29 1772.18h24.77v24.77h-24.77z"/><path d="M1409.06 1772.18h24.77v24.77h-24.77z"/><path d="M1037.48 1796.95h24.77v24.77h-24.77z"/><path d="M1062.26 1796.95h24.77v24.77h-24.77z"/><path d="M1087.03 1796.95h24.77v24.77h-24.77z"/><path d="M1111.8 1796.95h24.77v24.77h-24.77z"/><path d="M1136.57 1796.95h24.77v24.77h-24.77z"/><path d="M1161.34 1796.95h24.77v24.77h-24.77z"/><path d="M1186.11 1796.95h24.77v24.77h-24.77z"/><path d="M1210.88 1796.95h24.77v24.77h-24.77z"/><path d="M1235.66 1796.95h24.77v24.77h-24.77z"/><path d="M1260.43 1796.95h24.77v24.77h-24.77z"/><path d="M1285.2 1796.95h24.77v24.77h-24.77z"/><path d="M1309.97 1796.95h24.77v24.77h-24.77z"/><path d="M1334.74 1796.95h24.77v24.77h-24.77z"/><path d="M1359.51 1796.95h24.77v24.77h-24.77z"/><path d="M1384.29 1796.95h24.77v24.77h-24.77z"/><path d="M1062.26 1821.72h24.77v24.77h-24.77z"/><path d="M1087.03 1821.72h24.77v24.77h-24.77z"/><path d="M1111.8 1821.72h24.77v24.77h-24.77z"/><path d="M1136.57 1821.72h24.77v24.77h-24.77z"/><path d="M1161.34 1821.72h24.77v24.77h-24.77z"/><path d="M1186.11 1821.72h24.77v24.77h-24.77z"/><path d="M1210.88 1821.72h24.77v24.77h-24.77z"/><path d="M1235.66 1821.72h24.77v24.77h-24.77z"/><path d="M1260.43 1821.72h24.77v24.77h-24.77z"/><path d="M1285.2 1821.72h24.77v24.77h-24.77z"/><path d="M1309.97 1821.72h24.77v24.77h-24.77z"/><path d="M1334.74 1821.72h24.77v24.77h-24.77z"/><path d="M1359.51 1821.72h24.77v24.77h-24.77z"/><path d="M1384.29 1821.72h24.77v24.77h-24.77z"/><path d="M1087.03 1846.5h24.77v24.77h-24.77z"/><path d="M1111.8 1846.5h24.77v24.77h-24.77z"/><path d="M1136.57 1846.5h24.77v24.77h-24.77z"/><path d="M1235.66 1846.5h24.77v24.77h-24.77z"/><path d="M1260.43 1846.5h24.77v24.77h-24.77z"/><path d="M1285.2 1846.5h24.77v24.77h-24.77z"/><path d="M1309.97 1846.5h24.77v24.77h-24.77z"/><path d="M1334.74 1846.5h24.77v24.77h-24.77z"/><path d="M1087.03 1871.27h24.77v24.77h-24.77z"/><path d="M1111.8 1871.27h24.77v24.77h-24.77z"/><path d="M1260.43 1871.27h24.77v24.77h-24.77z"/><path d="M1285.2 1871.27h24.77v24.77h-24.77z"/><path d="M1309.97 1871.27h24.77v24.77h-24.77z"/><path d="M1235.66 1896.04h24.77v24.77h-24.77z"/><path d="M1260.43 1896.04h24.77v24.77h-24.77z"/><path d="M1285.2 1896.04h24.77v24.77h-24.77z"/><path d="M1235.66 1920.81h24.77v24.77h-24.77z"/><path d="M1260.43 1920.81h24.77v24.77h-24.77z"/><path d="M1285.2 1920.81h24.77v24.77h-24.77z"/><path d="M1235.66 1945.58h24.77v24.77h-24.77z"/><path d="M1260.43 1945.58h24.77v24.77h-24.77z"/><path d="M1285.2 1945.58h24.77v24.77h-24.77z"/><path d="M1235.66 1970.36h24.77v24.77h-24.77z"/><path d="M1260.43 1970.36h24.77v24.77h-24.77z"/><path d="M1285.2 1970.36h24.77v24.77h-24.77z"/></g>
<g fill="#53A227"><path d="M839.31 682.23h24.77v24.77h-24.77z"/><path d="M864.08 682.23h24.77v24.77h-24.77z"/><path d="M913.63 682.23h24.77v24.77h-24.77z"/><path d="M814.54 707h24.77v24.77h-24.77z"/><path d="M864.08 707h24.77v24.77h-24.77z"/><path d="M913.63 707h24.77v24.77h-24.77z"/><path d="M913.63 731.77h24.77v24.77h-24.77z"/><path d="M913.63 756.54h24.77v24.77h-24.77z"/><path d="M913.63 781.32h24.77v24.77h-24.77z"/><path d="M938.4 806.09h24.77v24.77h-24.77z"/><path d="M913.63 830.86h24.77v24.77h-24.77z"/><path d="M913.63 855.63h24.77v24.77h-24.77z"/><path d="M665.91 880.4h24.77v24.77h-24.77z"/><path d="M1111.8 880.4h24.77v24.77h-24.77z"/><path d="M1161.34 880.4h24.77v24.77h-24.77z"/><path d="M1186.11 880.4h24.77v24.77h-24.77z"/><path d="M1210.88 880.4h24.77v24.77h-24.77z"/><path d="M641.14 905.17h24.77v24.77h-24.77z"/><path d="M665.91 905.17h24.77v24.77h-24.77z"/><path d="M1136.57 905.17h24.77v24.77h-24.77z"/><path d="M1161.34 905.17h24.77v24.77h-24.77z"/><path d="M1161.34 929.94h24.77v24.77h-24.77z"/><path d="M1186.11 929.94h24.77v24.77h-24.77z"/><path d="M1186.11 954.72h24.77v24.77h-24.77z"/><path d="M542.05 979.49h24.77v24.77h-24.77z"/><path d="M566.82 979.49h24.77v24.77h-24.77z"/><path d="M566.82 1004.26h24.77v24.77h-24.77z"/><path d="M566.82 1029.03h24.77v24.77h-24.77z"/><path d="M839.31 1029.03h24.77v24.77h-24.77z"/><path d="M566.82 1053.8h24.77v24.77h-24.77z"/><path d="M814.54 1053.8h24.77v24.77h-24.77z"/><path d="M839.31 1053.8h24.77v24.77h-24.77z"/><path d="M864.08 1053.8h24.77v24.77h-24.77z"/><path d="M888.85 1053.8h24.77v24.77h-24.77z"/><path d="M566.82 1078.58h24.77v24.77h-24.77z"/><path d="M740.22 1078.58h24.77v24.77h-24.77z"/><path d="M765 1078.58h24.77v24.77h-24.77z"/><path d="M566.82 1103.35h24.77v24.77h-24.77z"/><path d="M616.37 1103.35h24.77v24.77h-24.77z"/><path d="M566.82 1128.12h24.77v24.77h-24.77z"/><path d="M690.68 1128.12h24.77v24.77h-24.77z"/><path d="M715.45 1128.12h24.77v24.77h-24.77z"/><path d="M566.82 1152.89h24.77v24.77h-24.77z"/><path d="M690.68 1152.89h24.77v24.77h-24.77z"/><path d="M641.14 1202.43h24.77v24.77h-24.77z"/><path d="M913.63 1202.43h24.77v24.77h-24.77z"/><path d="M641.14 1251.98h24.77v24.77h-24.77z"/><path d="M665.91 1251.98h24.77v24.77h-24.77z"/><path d="M517.28 1276.75h24.77v24.77h-24.77z"/><path d="M492.51 1301.52h24.77v24.77h-24.77z"/><path d="M517.28 1301.52h24.77v24.77h-24.77z"/><path d="M542.05 1301.52h24.77v24.77h-24.77z"/><path d="M888.85 1301.52h24.77v24.77h-24.77z"/><path d="M913.63 1301.52h24.77v24.77h-24.77z"/><path d="M938.4 1301.52h24.77v24.77h-24.77z"/><path d="M1309.97 1301.52h24.77v24.77h-24.77z"/><path d="M492.51 1326.29h24.77v24.77h-24.77z"/><path d="M517.28 1326.29h24.77v24.77h-24.77z"/><path d="M542.05 1326.29h24.77v24.77h-24.77z"/><path d="M1062.26 1326.29h24.77v24.77h-24.77z"/><path d="M1235.66 1326.29h24.77v24.77h-24.77z"/><path d="M1285.2 1326.29h24.77v24.77h-24.77z"/><path d="M1334.74 1326.29h24.77v24.77h-24.77z"/><path d="M467.74 1351.06h24.77v24.77h-24.77z"/><path d="M492.51 1351.06h24.77v24.77h-24.77z"/><path d="M517.28 1351.06h24.77v24.77h-24.77z"/><path d="M1087.03 1351.06h24.77v24.77h-24.77z"/><path d="M1210.88 1351.06h24.77v24.77h-24.77z"/><path d="M1235.66 1351.06h24.77v24.77h-24.77z"/><path d="M1260.43 1351.06h24.77v24.77h-24.77z"/><path d="M1285.2 1351.06h24.77v24.77h-24.77z"/><path d="M1359.51 1351.06h24.77v24.77h-24.77z"/><path d="M442.96 1375.84h24.77v24.77h-24.77z"/><path d="M467.74 1375.84h24.77v24.77h-24.77z"/><path d="M492.51 1375.84h24.77v24.77h-24.77z"/><path d="M616.37 1375.84h24.77v24.77h-24.77z"/><path d="M1235.66 1375.84h24.77v24.77h-24.77z"/><path d="M1260.43 1375.84h24.77v24.77h-24.77z"/><path d="M1285.2 1375.84h24.77v24.77h-24.77z"/><path d="M1334.74 1375.84h24.77v24.77h-24.77z"/><path d="M1359.51 1375.84h24.77v24.77h-24.77z"/><path d="M442.96 1400.61h24.77v24.77h-24.77z"/><path d="M467.74 1400.61h24.77v24.77h-24.77z"/><path d="M492.51 1400.61h24.77v24.77h-24.77z"/><path d="M715.45 1400.61h24.77v24.77h-24.77z"/><path d="M740.22 1400.61h24.77v24.77h-24.77z"/><path d="M789.77 1400.61h24.77v24.77h-24.77z"/><path d="M814.54 1400.61h24.77v24.77h-24.77z"/><path d="M1260.43 1400.61h24.77v24.77h-24.77z"/><path d="M1285.2 1400.61h24.77v24.77h-24.77z"/><path d="M1309.97 1400.61h24.77v24.77h-24.77z"/><path d="M1334.74 1400.61h24.77v24.77h-24.77z"/><path d="M1359.51 1400.61h24.77v24.77h-24.77z"/><path d="M715.45 1425.38h24.77v24.77h-24.77z"/><path d="M740.22 1425.38h24.77v24.77h-24.77z"/><path d="M839.31 1425.38h24.77v24.77h-24.77z"/><path d="M1235.66 1425.38h24.77v24.77h-24.77z"/><path d="M1285.2 1425.38h24.77v24.77h-24.77z"/><path d="M1309.97 1425.38h24.77v24.77h-24.77z"/><path d="M1334.74 1425.38h24.77v24.77h-24.77z"/><path d="M1359.51 1425.38h24.77v24.77h-24.77z"/><path d="M715.45 1450.15h24.77v24.77h-24.77z"/><path d="M839.31 1450.15h24.77v24.77h-24.77z"/><path d="M864.08 1450.15h24.77v24.77h-24.77z"/><path d="M888.85 1450.15h24.77v24.77h-24.77z"/><path d="M913.63 1450.15h24.77v24.77h-24.77z"/><path d="M938.4 1450.15h24.77v24.77h-24.77z"/><path d="M963.17 1450.15h24.77v24.77h-24.77z"/><path d="M987.94 1450.15h24.77v24.77h-24.77z"/><path d="M1012.71 1450.15h24.77v24.77h-24.77z"/><path d="M1309.97 1450.15h24.77v24.77h-24.77z"/><path d="M1334.74 1450.15h24.77v24.77h-24.77z"/><path d="M1359.51 1450.15h24.77v24.77h-24.77z"/><path d="M1359.51 1474.92h24.77v24.77h-24.77z"/><path d="M1037.48 1499.69h24.77v24.77h-24.77z"/><path d="M864.08 1549.24h24.77v24.77h-24.77z"/><path d="M1037.48 1549.24h24.77v24.77h-24.77z"/><path d="M1458.6 1598.78h24.77v24.77h-24.77z"/><path d="M1309.97 1623.55h24.77v24.77h-24.77z"/><path d="M1359.51 1623.55h24.77v24.77h-24.77z"/><path d="M1359.51 1648.32h24.77v24.77h-24.77z"/><path d="M1012.71 1673.1h24.77v24.77h-24.77z"/><path d="M1409.06 1673.1h24.77v24.77h-24.77z"/><path d="M1433.83 1673.1h24.77v24.77h-24.77z"/><path d="M987.94 1747.41h24.77v24.77h-24.77z"/></g>
<g fill="#64AC2A"><path d="M913.63 657.46h24.77v24.77h-24.77z"/><path d="M1161.34 781.32h24.77v24.77h-24.77z"/><path d="M1161.34 806.09h24.77v24.77h-24.77z"/><path d="M1037.48 830.86h24.77v24.77h-24.77z"/><path d="M1087.03 830.86h24.77v24.77h-24.77z"/><path d="M1111.8 830.86h24.77v24.77h-24.77z"/><path d="M1136.57 830.86h24.77v24.77h-24.77z"/><path d="M888.85 855.63h24.77v24.77h-24.77z"/><path d="M1087.03 855.63h24.77v24.77h-24.77z"/><path d="M1136.57 855.63h24.77v24.77h-24.77z"/><path d="M1161.34 855.63h24.77v24.77h-24.77z"/><path d="M616.37 880.4h24.77v24.77h-24.77z"/><path d="M641.14 880.4h24.77v24.77h-24.77z"/><path d="M765 880.4h24.77v24.77h-24.77z"/><path d="M789.77 880.4h24.77v24.77h-24.77z"/><path d="M616.37 905.17h24.77v24.77h-24.77z"/><path d="M740.22 905.17h24.77v24.77h-24.77z"/><path d="M616.37 929.94h24.77v24.77h-24.77z"/><path d="M641.14 929.94h24.77v24.77h-24.77z"/><path d="M740.22 929.94h24.77v24.77h-24.77z"/><path d="M839.31 929.94h24.77v24.77h-24.77z"/><path d="M864.08 929.94h24.77v24.77h-24.77z"/><path d="M888.85 929.94h24.77v24.77h-24.77z"/><path d="M1136.57 929.94h24.77v24.77h-24.77z"/><path d="M566.82 954.72h24.77v24.77h-24.77z"/><path d="M616.37 954.72h24.77v24.77h-24.77z"/><path d="M641.14 954.72h24.77v24.77h-24.77z"/><path d="M789.77 954.72h24.77v24.77h-24.77z"/><path d="M814.54 954.72h24.77v24.77h-24.77z"/><path d="M839.31 954.72h24.77v24.77h-24.77z"/><path d="M864.08 954.72h24.77v24.77h-24.77z"/><path d="M888.85 954.72h24.77v24.77h-24.77z"/><path d="M913.63 954.72h24.77v24.77h-24.77z"/><path d="M1087.03 954.72h24.77v24.77h-24.77z"/><path d="M1111.8 954.72h24.77v24.77h-24.77z"/><path d="M1136.57 954.72h24.77v24.77h-24.77z"/><path d="M591.59 979.49h24.77v24.77h-24.77z"/><path d="M616.37 979.49h24.77v24.77h-24.77z"/><path d="M641.14 979.49h24.77v24.77h-24.77z"/><path d="M740.22 979.49h24.77v24.77h-24.77z"/><path d="M789.77 979.49h24.77v24.77h-24.77z"/><path d="M839.31 979.49h24.77v24.77h-24.77z"/><path d="M864.08 979.49h24.77v24.77h-24.77z"/><path d="M888.85 979.49h24.77v24.77h-24.77z"/><path d="M913.63 979.49h24.77v24.77h-24.77z"/><path d="M938.4 979.49h24.77v24.77h-24.77z"/><path d="M1012.71 979.49h24.77v24.77h-24.77z"/><path d="M1037.48 979.49h24.77v24.77h-24.77z"/><path d="M1062.26 979.49h24.77v24.77h-24.77z"/><path d="M1087.03 979.49h24.77v24.77h-24.77z"/><path d="M1186.11 979.49h24.77v24.77h-24.77z"/><path d="M591.59 1004.26h24.77v24.77h-24.77z"/><path d="M616.37 1004.26h24.77v24.77h-24.77z"/><path d="M765 1004.26h24.77v24.77h-24.77z"/><path d="M789.77 1004.26h24.77v24.77h-24.77z"/><path d="M839.31 1004.26h24.77v24.77h-24.77z"/><path d="M864.08 1004.26h24.77v24.77h-24.77z"/><path d="M963.17 1004.26h24.77v24.77h-24.77z"/><path d="M987.94 1004.26h24.77v24.77h-24.77z"/><path d="M1037.48 1004.26h24.77v24.77h-24.77z"/><path d="M1136.57 1004.26h24.77v24.77h-24.77z"/><path d="M591.59 1029.03h24.77v24.77h-24.77z"/><path d="M616.37 1029.03h24.77v24.77h-24.77z"/><path d="M789.77 1029.03h24.77v24.77h-24.77z"/><path d="M814.54 1029.03h24.77v24.77h-24.77z"/><path d="M864.08 1029.03h24.77v24.77h-24.77z"/><path d="M888.85 1029.03h24.77v24.77h-24.77z"/><path d="M913.63 1029.03h24.77v24.77h-24.77z"/><path d="M987.94 1029.03h24.77v24.77h-24.77z"/><path d="M1062.26 1029.03h24.77v24.77h-24.77z"/><path d="M591.59 1053.8h24.77v24.77h-24.77z"/><path d="M616.37 1053.8h24.77v24.77h-24.77z"/><path d="M641.14 1053.8h24.77v24.77h-24.77z"/><path d="M913.63 1053.8h24.77v24.77h-24.77z"/><path d="M1235.66 1053.8h24.77v24.77h-24.77z"/><path d="M591.59 1078.58h24.77v24.77h-24.77z"/><path d="M616.37 1078.58h24.77v24.77h-24.77z"/><path d="M715.45 1078.58h24.77v24.77h-24.77z"/><path d="M789.77 1078.58h24.77v24.77h-24.77z"/><path d="M888.85 1078.58h24.77v24.77h-24.77z"/><path d="M1186.11 1078.58h24.77v24.77h-24.77z"/><path d="M591.59 1103.35h24.77v24.77h-24.77z"/><path d="M665.91 1103.35h24.77v24.77h-24.77z"/><path d="M690.68 1103.35h24.77v24.77h-24.77z"/><path d="M715.45 1103.35h24.77v24.77h-24.77z"/><path d="M740.22 1103.35h24.77v24.77h-24.77z"/><path d="M789.77 1103.35h24.77v24.77h-24.77z"/><path d="M1309.97 1103.35h24.77v24.77h-24.77z"/><path d="M591.59 1128.12h24.77v24.77h-24.77z"/><path d="M665.91 1128.12h24.77v24.77h-24.77z"/><path d="M740.22 1128.12h24.77v24.77h-24.77z"/><path d="M765 1128.12h24.77v24.77h-24.77z"/><path d="M963.17 1128.12h24.77v24.77h-24.77z"/><path d="M1087.03 1128.12h24.77v24.77h-24.77z"/><path d="M1309.97 1128.12h24.77v24.77h-24.77z"/><path d="M1384.29 1128.12h24.77v24.77h-24.77z"/><path d="M616.37 1152.89h24.77v24.77h-24.77z"/><path d="M665.91 1152.89h24.77v24.77h-24.77z"/><path d="M715.45 1152.89h24.77v24.77h-24.77z"/><path d="M740.22 1152.89h24.77v24.77h-24.77z"/><path d="M1012.71 1152.89h24.77v24.77h-24.77z"/><path d="M1111.8 1152.89h24.77v24.77h-24.77z"/><path d="M1260.43 1152.89h24.77v24.77h-24.77z"/><path d="M1409.06 1152.89h24.77v24.77h-24.77z"/><path d="M1458.6 1152.89h24.77v24.77h-24.77z"/><path d="M1508.14 1152.89h24.77v24.77h-24.77z"/><path d="M1532.92 1152.89h24.77v24.77h-24.77z"/><path d="M542.05 1177.66h24.77v24.77h-24.77z"/><path d="M566.82 1177.66h24.77v24.77h-24.77z"/><path d="M641.14 1177.66h24.77v24.77h-24.77z"/><path d="M665.91 1177.66h24.77v24.77h-24.77z"/><path d="M715.45 1177.66h24.77v24.77h-24.77z"/><path d="M913.63 1177.66h24.77v24.77h-24.77z"/><path d="M938.4 1177.66h24.77v24.77h-24.77z"/><path d="M963.17 1177.66h24.77v24.77h-24.77z"/><path d="M987.94 1177.66h24.77v24.77h-24.77z"/><path d="M1012.71 1177.66h24.77v24.77h-24.77z"/><path d="M1037.48 1177.66h24.77v24.77h-24.77z"/><path d="M1087.03 1177.66h24.77v24.77h-24.77z"/><path d="M1235.66 1177.66h24.77v24.77h-24.77z"/><path d="M1260.43 1177.66h24.77v24.77h-24.77z"/><path d="M1285.2 1177.66h24.77v24.77h-24.77z"/><path d="M1309.97 1177.66h24.77v24.77h-24.77z"/><path d="M1458.6 1177.66h24.77v24.77h-24.77z"/><path d="M1508.14 1177.66h24.77v24.77h-24.77z"/><path d="M1532.92 1177.66h24.77v24.77h-24.77z"/><path d="M1607.23 1177.66h24.77v24.77h-24.77z"/><path d="M591.59 1202.43h24.77v24.77h-24.77z"/><path d="M616.37 1202.43h24.77v24.77h-24.77z"/><path d="M938.4 1202.43h24.77v24.77h-24.77z"/><path d="M987.94 1202.43h24.77v24.77h-24.77z"/><path d="M1012.71 1202.43h24.77v24.77h-24.77z"/><path d="M1037.48 1202.43h24.77v24.77h-24.77z"/><path d="M1111.8 1202.43h24.77v24.77h-24.77z"/><path d="M1136.57 1202.43h24.77v24.77h-24.77z"/><path d="M1260.43 1202.43h24.77v24.77h-24.77z"/><path d="M1285.2 1202.43h24.77v24.77h-24.77z"/><path d="M1309.97 1202.43h24.77v24.77h-24.77z"/><path d="M1334.74 1202.43h24.77v24.77h-24.77z"/><path d="M1409.06 1202.43h24.77v24.77h-24.77z"/><path d="M1532.92 1202.43h24.77v24.77h-24.77z"/><path d="M1607.23 1202.43h24.77v24.77h-24.77z"/><path d="M542.05 1227.2h24.77v24.77h-24.77z"/><path d="M566.82 1227.2h24.77v24.77h-24.77z"/><path d="M591.59 1227.2h24.77v24.77h-24.77z"/><path d="M616.37 1227.2h24.77v24.77h-24.77z"/><path d="M641.14 1227.2h24.77v24.77h-24.77z"/><path d="M665.91 1227.2h24.77v24.77h-24.77z"/><path d="M913.63 1227.2h24.77v24.77h-24.77z"/><path d="M938.4 1227.2h24.77v24.77h-24.77z"/><path d="M963.17 1227.2h24.77v24.77h-24.77z"/><path d="M987.94 1227.2h24.77v24.77h-24.77z"/><path d="M1012.71 1227.2h24.77v24.77h-24.77z"/><path d="M1087.03 1227.2h24.77v24.77h-24.77z"/><path d="M1111.8 1227.2h24.77v24.77h-24.77z"/><path d="M1235.66 1227.2h24.77v24.77h-24.77z"/><path d="M1260.43 1227.2h24.77v24.77h-24.77z"/><path d="M1309.97 1227.2h24.77v24.77h-24.77z"/><path d="M1359.51 1227.2h24.77v24.77h-24.77z"/><path d="M1409.06 1227.2h24.77v24.77h-24.77z"/><path d="M1532.92 1227.2h24.77v24.77h-24.77z"/><path d="M1607.23 1227.2h24.77v24.77h-24.77z"/><path d="M1632 1227.2h24.77v24.77h-24.77z"/><path d="M517.28 1251.98h24.77v24.77h-24.77z"/><path d="M542.05 1251.98h24.77v24.77h-24.77z"/><path d="M690.68 1251.98h24.77v24.77h-24.77z"/><path d="M864.08 1251.98h24.77v24.77h-24.77z"/><path d="M888.85 1251.98h24.77v24.77h-24.77z"/><path d="M913.63 1251.98h24.77v24.77h-24.77z"/><path d="M987.94 1251.98h24.77v24.77h-24.77z"/><path d="M1037.48 1251.98h24.77v24.77h-24.77z"/><path d="M1285.2 1251.98h24.77v24.77h-24.77z"/><path d="M1359.51 1251.98h24.77v24.77h-24.77z"/><path d="M1384.29 1251.98h24.77v24.77h-24.77z"/><path d="M1409.06 1251.98h24.77v24.77h-24.77z"/><path d="M1433.83 1251.98h24.77v24.77h-24.77z"/><path d="M1483.37 1251.98h24.77v24.77h-24.77z"/><path d="M1508.14 1251.98h24.77v24.77h-24.77z"/><path d="M1557.69 1251.98h24.77v24.77h-24.77z"/><path d="M1607.23 1251.98h24.77v24.77h-24.77z"/><path d="M467.74 1276.75h24.77v24.77h-24.77z"/><path d="M492.51 1276.75h24.77v24.77h-24.77z"/><path d="M542.05 1276.75h24.77v24.77h-24.77z"/><path d="M690.68 1276.75h24.77v24.77h-24.77z"/><path d="M864.08 1276.75h24.77v24.77h-24.77z"/><path d="M888.85 1276.75h24.77v24.77h-24.77z"/><path d="M913.63 1276.75h24.77v24.77h-24.77z"/><path d="M938.4 1276.75h24.77v24.77h-24.77z"/><path d="M963.17 1276.75h24.77v24.77h-24.77z"/><path d="M987.94 1276.75h24.77v24.77h-24.77z"/><path d="M1309.97 1276.75h24.77v24.77h-24.77z"/><path d="M1409.06 1276.75h24.77v24.77h-24.77z"/><path d="M1433.83 1276.75h24.77v24.77h-24.77z"/><path d="M1532.92 1276.75h24.77v24.77h-24.77z"/><path d="M1557.69 1276.75h24.77v24.77h-24.77z"/><path d="M418.19 1301.52h24.77v24.77h-24.77z"/><path d="M740.22 1301.52h24.77v24.77h-24.77z"/><path d="M839.31 1301.52h24.77v24.77h-24.77z"/><path d="M864.08 1301.52h24.77v24.77h-24.77z"/><path d="M963.17 1301.52h24.77v24.77h-24.77z"/><path d="M987.94 1301.52h24.77v24.77h-24.77z"/><path d="M1037.48 1301.52h24.77v24.77h-24.77z"/><path d="M1359.51 1301.52h24.77v24.77h-24.77z"/><path d="M1409.06 1301.52h24.77v24.77h-24.77z"/><path d="M1458.6 1301.52h24.77v24.77h-24.77z"/><path d="M442.96 1326.29h24.77v24.77h-24.77z"/><path d="M467.74 1326.29h24.77v24.77h-24.77z"/><path d="M566.82 1326.29h24.77v24.77h-24.77z"/><path d="M839.31 1326.29h24.77v24.77h-24.77z"/><path d="M864.08 1326.29h24.77v24.77h-24.77z"/><path d="M888.85 1326.29h24.77v24.77h-24.77z"/><path d="M913.63 1326.29h24.77v24.77h-24.77z"/><path d="M938.4 1326.29h24.77v24.77h-24.77z"/><path d="M963.17 1326.29h24.77v24.77h-24.77z"/><path d="M987.94 1326.29h24.77v24.77h-24.77z"/><path d="M1359.51 1326.29h24.77v24.77h-24.77z"/><path d="M1384.29 1326.29h24.77v24.77h-24.77z"/><path d="M1409.06 1326.29h24.77v24.77h-24.77z"/><path d="M1458.6 1326.29h24.77v24.77h-24.77z"/><path d="M1508.14 1326.29h24.77v24.77h-24.77z"/><path d="M1532.92 1326.29h24.77v24.77h-24.77z"/><path d="M542.05 1351.06h24.77v24.77h-24.77z"/><path d="M566.82 1351.06h24.77v24.77h-24.77z"/><path d="M591.59 1351.06h24.77v24.77h-24.77z"/><path d="M616.37 1351.06h24.77v24.77h-24.77z"/><path d="M864.08 1351.06h24.77v24.77h-24.77z"/><path d="M913.63 1351.06h24.77v24.77h-24.77z"/><path d="M938.4 1351.06h24.77v24.77h-24.77z"/><path d="M1111.8 1351.06h24.77v24.77h-24.77z"/><path d="M1384.29 1351.06h24.77v24.77h-24.77z"/><path d="M1433.83 1351.06h24.77v24.77h-24.77z"/><path d="M1508.14 1351.06h24.77v24.77h-24.77z"/><path d="M517.28 1375.84h24.77v24.77h-24.77z"/><path d="M542.05 1375.84h24.77v24.77h-24.77z"/><path d="M566.82 1375.84h24.77v24.77h-24.77z"/><path d="M591.59 1375.84h24.77v24.77h-24.77z"/><path d="M814.54 1375.84h24.77v24.77h-24.77z"/><path d="M864.08 1375.84h24.77v24.77h-24.77z"/><path d="M888.85 1375.84h24.77v24.77h-24.77z"/><path d="M1409.06 1375.84h24.77v24.77h-24.77z"/><path d="M1433.83 1375.84h24.77v24.77h-24.77z"/><path d="M1458.6 1375.84h24.77v24.77h-24.77z"/><path d="M517.28 1400.61h24.77v24.77h-24.77z"/><path d="M542.05 1400.61h24.77v24.77h-24.77z"/><path d="M566.82 1400.61h24.77v24.77h-24.77z"/><path d="M1433.83 1400.61h24.77v24.77h-24.77z"/><path d="M1458.6 1400.61h24.77v24.77h-24.77z"/><path d="M864.08 1425.38h24.77v24.77h-24.77z"/><path d="M888.85 1425.38h24.77v24.77h-24.77z"/><path d="M1037.48 1425.38h24.77v24.77h-24.77z"/><path d="M1210.88 1425.38h24.77v24.77h-24.77z"/><path d="M1384.29 1425.38h24.77v24.77h-24.77z"/><path d="M1458.6 1425.38h24.77v24.77h-24.77z"/><path d="M1384.29 1450.15h24.77v24.77h-24.77z"/><path d="M1409.06 1450.15h24.77v24.77h-24.77z"/><path d="M1433.83 1450.15h24.77v24.77h-24.77z"/><path d="M1458.6 1450.15h24.77v24.77h-24.77z"/><path d="M1285.2 1474.92h24.77v24.77h-24.77z"/><path d="M1384.29 1474.92h24.77v24.77h-24.77z"/><path d="M1409.06 1474.92h24.77v24.77h-24.77z"/><path d="M1433.83 1474.92h24.77v24.77h-24.77z"/><path d="M1334.74 1499.69h24.77v24.77h-24.77z"/><path d="M1359.51 1499.69h24.77v24.77h-24.77z"/><path d="M1384.29 1499.69h24.77v24.77h-24.77z"/><path d="M1409.06 1499.69h24.77v24.77h-24.77z"/><path d="M1433.83 1499.69h24.77v24.77h-24.77z"/><path d="M1037.48 1524.46h24.77v24.77h-24.77z"/><path d="M1359.51 1524.46h24.77v24.77h-24.77z"/><path d="M1384.29 1524.46h24.77v24.77h-24.77z"/><path d="M1409.06 1524.46h24.77v24.77h-24.77z"/><path d="M1433.83 1524.46h24.77v24.77h-24.77z"/><path d="M1458.6 1524.46h24.77v24.77h-24.77z"/><path d="M1384.29 1549.24h24.77v24.77h-24.77z"/><path d="M1409.06 1549.24h24.77v24.77h-24.77z"/><path d="M1062.26 1598.78h24.77v24.77h-24.77z"/><path d="M1087.03 1598.78h24.77v24.77h-24.77z"/><path d="M1111.8 1598.78h24.77v24.77h-24.77z"/><path d="M1334.74 1598.78h24.77v24.77h-24.77z"/><path d="M1384.29 1598.78h24.77v24.77h-24.77z"/><path d="M1384.29 1623.55h24.77v24.77h-24.77z"/><path d="M1458.6 1623.55h24.77v24.77h-24.77z"/><path d="M1235.66 1648.32h24.77v24.77h-24.77z"/><path d="M1458.6 1648.32h24.77v24.77h-24.77z"/><path d="M1706.32 1648.32h24.77v24.77h-24.77z"/><path d="M1731.09 1648.32h24.77v24.77h-24.77z"/><path d="M1755.86 1648.32h24.77v24.77h-24.77z"/><path d="M1780.63 1648.32h24.77v24.77h-24.77z"/><path d="M1285.2 1673.1h24.77v24.77h-24.77z"/><path d="M1458.6 1673.1h24.77v24.77h-24.77z"/><path d="M1706.32 1673.1h24.77v24.77h-24.77z"/><path d="M1731.09 1673.1h24.77v24.77h-24.77z"/><path d="M1755.86 1673.1h24.77v24.77h-24.77z"/><path d="M987.94 1697.87h24.77v24.77h-24.77z"/><path d="M1731.09 1697.87h24.77v24.77h-24.77z"/><path d="M1731.09 1722.64h24.77v24.77h-24.77z"/><path d="M1755.86 1722.64h24.77v24.77h-24.77z"/><path d="M1731.09 1747.41h24.77v24.77h-24.77z"/><path d="M987.94 1772.18h24.77v24.77h-24.77z"/><path d="M1012.71 1772.18h24.77v24.77h-24.77z"/><path d="M987.94 1796.95h24.77v24.77h-24.77z"/><path d="M1012.71 1796.95h24.77v24.77h-24.77z"/><path d="M1012.71 1821.72h24.77v24.77h-24.77z"/><path d="M1012.71 1846.5h24.77v24.77h-24.77z"/><path d="M1012.71 1871.27h24.77v24.77h-24.77z"/><path d="M1037.48 1896.04h24.77v24.77h-24.77z"/></g>
<g fill="#74B62C"><path d="M987.94 806.09h24.77v24.77h-24.77z"/><path d="M987.94 855.63h24.77v24.77h-24.77z"/><path d="M740.22 880.4h24.77v24.77h-24.77z"/><path d="M814.54 880.4h24.77v24.77h-24.77z"/><path d="M888.85 880.4h24.77v24.77h-24.77z"/><path d="M913.63 880.4h24.77v24.77h-24.77z"/><path d="M938.4 880.4h24.77v24.77h-24.77z"/><path d="M987.94 880.4h24.77v24.77h-24.77z"/><path d="M1087.03 880.4h24.77v24.77h-24.77z"/><path d="M715.45 905.17h24.77v24.77h-24.77z"/><path d="M839.31 905.17h24.77v24.77h-24.77z"/><path d="M1087.03 905.17h24.77v24.77h-24.77z"/><path d="M1111.8 905.17h24.77v24.77h-24.77z"/><path d="M987.94 929.94h24.77v24.77h-24.77z"/><path d="M1012.71 929.94h24.77v24.77h-24.77z"/><path d="M1037.48 929.94h24.77v24.77h-24.77z"/><path d="M1062.26 929.94h24.77v24.77h-24.77z"/><path d="M1087.03 929.94h24.77v24.77h-24.77z"/><path d="M591.59 954.72h24.77v24.77h-24.77z"/><path d="M765 954.72h24.77v24.77h-24.77z"/><path d="M1111.8 979.49h24.77v24.77h-24.77z"/><path d="M1136.57 979.49h24.77v24.77h-24.77z"/><path d="M1161.34 979.49h24.77v24.77h-24.77z"/><path d="M1087.03 1004.26h24.77v24.77h-24.77z"/><path d="M1111.8 1004.26h24.77v24.77h-24.77z"/><path d="M1161.34 1004.26h24.77v24.77h-24.77z"/><path d="M1186.11 1004.26h24.77v24.77h-24.77z"/><path d="M641.14 1029.03h24.77v24.77h-24.77z"/><path d="M1111.8 1029.03h24.77v24.77h-24.77z"/><path d="M740.22 1053.8h24.77v24.77h-24.77z"/><path d="M1062.26 1053.8h24.77v24.77h-24.77z"/><path d="M1161.34 1053.8h24.77v24.77h-24.77z"/><path d="M665.91 1078.58h24.77v24.77h-24.77z"/><path d="M690.68 1078.58h24.77v24.77h-24.77z"/><path d="M814.54 1078.58h24.77v24.77h-24.77z"/><path d="M1111.8 1078.58h24.77v24.77h-24.77z"/><path d="M1136.57 1078.58h24.77v24.77h-24.77z"/><path d="M641.14 1103.35h24.77v24.77h-24.77z"/><path d="M1161.34 1103.35h24.77v24.77h-24.77z"/><path d="M616.37 1128.12h24.77v24.77h-24.77z"/><path d="M641.14 1128.12h24.77v24.77h-24.77z"/><path d="M789.77 1128.12h24.77v24.77h-24.77z"/><path d="M814.54 1128.12h24.77v24.77h-24.77z"/><path d="M1161.34 1128.12h24.77v24.77h-24.77z"/><path d="M1186.11 1152.89h24.77v24.77h-24.77z"/><path d="M740.22 1177.66h24.77v24.77h-24.77z"/><path d="M1161.34 1177.66h24.77v24.77h-24.77z"/><path d="M1210.88 1177.66h24.77v24.77h-24.77z"/><path d="M542.05 1202.43h24.77v24.77h-24.77z"/><path d="M566.82 1202.43h24.77v24.77h-24.77z"/><path d="M1087.03 1202.43h24.77v24.77h-24.77z"/><path d="M517.28 1227.2h24.77v24.77h-24.77z"/><path d="M864.08 1227.2h24.77v24.77h-24.77z"/><path d="M1062.26 1227.2h24.77v24.77h-24.77z"/><path d="M1186.11 1227.2h24.77v24.77h-24.77z"/><path d="M715.45 1251.98h24.77v24.77h-24.77z"/><path d="M1087.03 1251.98h24.77v24.77h-24.77z"/><path d="M1087.03 1276.75h24.77v24.77h-24.77z"/><path d="M1111.8 1276.75h24.77v24.77h-24.77z"/><path d="M1136.57 1276.75h24.77v24.77h-24.77z"/><path d="M1186.11 1276.75h24.77v24.77h-24.77z"/><path d="M814.54 1301.52h24.77v24.77h-24.77z"/><path d="M1210.88 1301.52h24.77v24.77h-24.77z"/><path d="M591.59 1326.29h24.77v24.77h-24.77z"/><path d="M616.37 1326.29h24.77v24.77h-24.77z"/><path d="M1136.57 1326.29h24.77v24.77h-24.77z"/><path d="M1161.34 1326.29h24.77v24.77h-24.77z"/><path d="M1186.11 1326.29h24.77v24.77h-24.77z"/><path d="M1210.88 1326.29h24.77v24.77h-24.77z"/><path d="M442.96 1351.06h24.77v24.77h-24.77z"/><path d="M963.17 1351.06h24.77v24.77h-24.77z"/><path d="M987.94 1351.06h24.77v24.77h-24.77z"/><path d="M1136.57 1351.06h24.77v24.77h-24.77z"/><path d="M1186.11 1351.06h24.77v24.77h-24.77z"/><path d="M1532.92 1351.06h24.77v24.77h-24.77z"/><path d="M418.19 1375.84h24.77v24.77h-24.77z"/><path d="M641.14 1375.84h24.77v24.77h-24.77z"/><path d="M740.22 1375.84h24.77v24.77h-24.77z"/><path d="M765 1375.84h24.77v24.77h-24.77z"/><path d="M913.63 1375.84h24.77v24.77h-24.77z"/><path d="M938.4 1375.84h24.77v24.77h-24.77z"/><path d="M963.17 1375.84h24.77v24.77h-24.77z"/><path d="M987.94 1375.84h24.77v24.77h-24.77z"/><path d="M1037.48 1375.84h24.77v24.77h-24.77z"/><path d="M418.19 1400.61h24.77v24.77h-24.77z"/><path d="M591.59 1400.61h24.77v24.77h-24.77z"/><path d="M616.37 1400.61h24.77v24.77h-24.77z"/><path d="M864.08 1400.61h24.77v24.77h-24.77z"/><path d="M888.85 1400.61h24.77v24.77h-24.77z"/><path d="M913.63 1400.61h24.77v24.77h-24.77z"/><path d="M963.17 1400.61h24.77v24.77h-24.77z"/><path d="M1037.48 1400.61h24.77v24.77h-24.77z"/><path d="M1062.26 1400.61h24.77v24.77h-24.77z"/><path d="M566.82 1425.38h24.77v24.77h-24.77z"/><path d="M591.59 1425.38h24.77v24.77h-24.77z"/><path d="M616.37 1425.38h24.77v24.77h-24.77z"/><path d="M913.63 1425.38h24.77v24.77h-24.77z"/><path d="M938.4 1425.38h24.77v24.77h-24.77z"/><path d="M963.17 1425.38h24.77v24.77h-24.77z"/><path d="M987.94 1425.38h24.77v24.77h-24.77z"/><path d="M591.59 1450.15h24.77v24.77h-24.77z"/><path d="M616.37 1450.15h24.77v24.77h-24.77z"/><path d="M1334.74 1524.46h24.77v24.77h-24.77z"/><path d="M1359.51 1549.24h24.77v24.77h-24.77z"/><path d="M1359.51 1574.01h24.77v24.77h-24.77z"/><path d="M963.17 1598.78h24.77v24.77h-24.77z"/><path d="M987.94 1598.78h24.77v24.77h-24.77z"/><path d="M1012.71 1598.78h24.77v24.77h-24.77z"/><path d="M938.4 1623.55h24.77v24.77h-24.77z"/><path d="M963.17 1623.55h24.77v24.77h-24.77z"/><path d="M987.94 1623.55h24.77v24.77h-24.77z"/><path d="M1012.71 1623.55h24.77v24.77h-24.77z"/><path d="M1285.2 1623.55h24.77v24.77h-24.77z"/><path d="M913.63 1648.32h24.77v24.77h-24.77z"/><path d="M938.4 1648.32h24.77v24.77h-24.77z"/><path d="M963.17 1648.32h24.77v24.77h-24.77z"/><path d="M987.94 1648.32h24.77v24.77h-24.77z"/><path d="M1012.71 1648.32h24.77v24.77h-24.77z"/><path d="M1210.88 1648.32h24.77v24.77h-24.77z"/><path d="M1260.43 1648.32h24.77v24.77h-24.77z"/><path d="M1433.83 1648.32h24.77v24.77h-24.77z"/><path d="M913.63 1673.1h24.77v24.77h-24.77z"/><path d="M938.4 1673.1h24.77v24.77h-24.77z"/><path d="M963.17 1673.1h24.77v24.77h-24.77z"/><path d="M987.94 1673.1h24.77v24.77h-24.77z"/><path d="M1805.41 1673.1h24.77v24.77h-24.77z"/><path d="M938.4 1697.87h24.77v24.77h-24.77z"/><path d="M963.17 1697.87h24.77v24.77h-24.77z"/><path d="M963.17 1722.64h24.77v24.77h-24.77z"/><path d="M987.94 1722.64h24.77v24.77h-24.77z"/><path d="M1409.06 1821.72h24.77v24.77h-24.77z"/><path d="M1433.83 1821.72h24.77v24.77h-24.77z"/><path d="M987.94 1846.5h24.77v24.77h-24.77z"/><path d="M963.17 1871.27h24.77v24.77h-24.77z"/><path d="M987.94 1871.27h24.77v24.77h-24.77z"/></g>
<g fill="#85C02F"><path d="M765 756.54h24.77v24.77h-24.77z"/><path d="M839.31 756.54h24.77v24.77h-24.77z"/><path d="M888.85 756.54h24.77v24.77h-24.77z"/><path d="M740.22 781.32h24.77v24.77h-24.77z"/><path d="M789.77 781.32h24.77v24.77h-24.77z"/><path d="M839.31 781.32h24.77v24.77h-24.77z"/><path d="M864.08 781.32h24.77v24.77h-24.77z"/><path d="M715.45 806.09h24.77v24.77h-24.77z"/><path d="M740.22 806.09h24.77v24.77h-24.77z"/><path d="M765 806.09h24.77v24.77h-24.77z"/><path d="M888.85 806.09h24.77v24.77h-24.77z"/><path d="M715.45 830.86h24.77v24.77h-24.77z"/><path d="M740.22 830.86h24.77v24.77h-24.77z"/><path d="M765 830.86h24.77v24.77h-24.77z"/><path d="M789.77 830.86h24.77v24.77h-24.77z"/><path d="M814.54 830.86h24.77v24.77h-24.77z"/><path d="M864.08 830.86h24.77v24.77h-24.77z"/><path d="M888.85 830.86h24.77v24.77h-24.77z"/><path d="M690.68 855.63h24.77v24.77h-24.77z"/><path d="M715.45 855.63h24.77v24.77h-24.77z"/><path d="M740.22 855.63h24.77v24.77h-24.77z"/><path d="M765 855.63h24.77v24.77h-24.77z"/><path d="M789.77 855.63h24.77v24.77h-24.77z"/><path d="M814.54 855.63h24.77v24.77h-24.77z"/><path d="M839.31 855.63h24.77v24.77h-24.77z"/><path d="M1012.71 855.63h24.77v24.77h-24.77z"/><path d="M690.68 880.4h24.77v24.77h-24.77z"/><path d="M1062.26 880.4h24.77v24.77h-24.77z"/><path d="M690.68 905.17h24.77v24.77h-24.77z"/><path d="M814.54 905.17h24.77v24.77h-24.77z"/><path d="M1037.48 905.17h24.77v24.77h-24.77z"/><path d="M1062.26 905.17h24.77v24.77h-24.77z"/><path d="M765 1029.03h24.77v24.77h-24.77z"/><path d="M690.68 1053.8h24.77v24.77h-24.77z"/><path d="M715.45 1053.8h24.77v24.77h-24.77z"/><path d="M641.14 1078.58h24.77v24.77h-24.77z"/><path d="M814.54 1103.35h24.77v24.77h-24.77z"/><path d="M839.31 1128.12h24.77v24.77h-24.77z"/><path d="M765 1152.89h24.77v24.77h-24.77z"/><path d="M765 1177.66h24.77v24.77h-24.77z"/><path d="M740.22 1202.43h24.77v24.77h-24.77z"/><path d="M1186.11 1202.43h24.77v24.77h-24.77z"/><path d="M591.59 1251.98h24.77v24.77h-24.77z"/><path d="M839.31 1251.98h24.77v24.77h-24.77z"/><path d="M1136.57 1251.98h24.77v24.77h-24.77z"/><path d="M566.82 1276.75h24.77v24.77h-24.77z"/><path d="M591.59 1276.75h24.77v24.77h-24.77z"/><path d="M616.37 1276.75h24.77v24.77h-24.77z"/><path d="M641.14 1276.75h24.77v24.77h-24.77z"/><path d="M715.45 1276.75h24.77v24.77h-24.77z"/><path d="M1235.66 1276.75h24.77v24.77h-24.77z"/><path d="M566.82 1301.52h24.77v24.77h-24.77z"/><path d="M591.59 1301.52h24.77v24.77h-24.77z"/><path d="M616.37 1301.52h24.77v24.77h-24.77z"/><path d="M641.14 1301.52h24.77v24.77h-24.77z"/><path d="M715.45 1301.52h24.77v24.77h-24.77z"/><path d="M789.77 1301.52h24.77v24.77h-24.77z"/><path d="M1161.34 1301.52h24.77v24.77h-24.77z"/><path d="M1111.8 1326.29h24.77v24.77h-24.77z"/><path d="M641.14 1351.06h24.77v24.77h-24.77z"/><path d="M1037.48 1351.06h24.77v24.77h-24.77z"/><path d="M1161.34 1351.06h24.77v24.77h-24.77z"/><path d="M1012.71 1375.84h24.77v24.77h-24.77z"/><path d="M1087.03 1375.84h24.77v24.77h-24.77z"/><path d="M938.4 1400.61h24.77v24.77h-24.77z"/><path d="M987.94 1400.61h24.77v24.77h-24.77z"/><path d="M1012.71 1400.61h24.77v24.77h-24.77z"/><path d="M1755.86 1400.61h24.77v24.77h-24.77z"/><path d="M1483.37 1623.55h24.77v24.77h-24.77z"/><path d="M1458.6 1697.87h24.77v24.77h-24.77z"/><path d="M1483.37 1697.87h24.77v24.77h-24.77z"/><path d="M1458.6 1722.64h24.77v24.77h-24.77z"/><path d="M1483.37 1722.64h24.77v24.77h-24.77z"/><path d="M1706.32 1722.64h24.77v24.77h-24.77z"/><path d="M1433.83 1747.41h24.77v24.77h-24.77z"/><path d="M1483.37 1747.41h24.77v24.77h-24.77z"/><path d="M1508.14 1747.41h24.77v24.77h-24.77z"/><path d="M1433.83 1772.18h24.77v24.77h-24.77z"/><path d="M1458.6 1772.18h24.77v24.77h-24.77z"/><path d="M1483.37 1772.18h24.77v24.77h-24.77z"/><path d="M1508.14 1772.18h24.77v24.77h-24.77z"/><path d="M1409.06 1796.95h24.77v24.77h-24.77z"/><path d="M1433.83 1796.95h24.77v24.77h-24.77z"/></g>
<g fill="#95CA31"><path d="M690.68 929.94h24.77v24.77h-24.77z"/><path d="M715.45 929.94h24.77v24.77h-24.77z"/><path d="M665.91 954.72h24.77v24.77h-24.77z"/><path d="M665.91 979.49h24.77v24.77h-24.77z"/><path d="M641.14 1004.26h24.77v24.77h-24.77z"/><path d="M665.91 1004.26h24.77v24.77h-24.77z"/><path d="M665.91 1053.8h24.77v24.77h-24.77z"/><path d="M789.77 1152.89h24.77v24.77h-24.77z"/><path d="M814.54 1152.89h24.77v24.77h-24.77z"/><path d="M839.31 1152.89h24.77v24.77h-24.77z"/><path d="M789.77 1177.66h24.77v24.77h-24.77z"/><path d="M814.54 1177.66h24.77v24.77h-24.77z"/><path d="M888.85 1177.66h24.77v24.77h-24.77z"/><path d="M765 1202.43h24.77v24.77h-24.77z"/><path d="M789.77 1202.43h24.77v24.77h-24.77z"/><path d="M814.54 1202.43h24.77v24.77h-24.77z"/><path d="M1706.32 1276.75h24.77v24.77h-24.77z"/><path d="M1731.09 1276.75h24.77v24.77h-24.77z"/><path d="M1731.09 1301.52h24.77v24.77h-24.77z"/><path d="M641.14 1326.29h24.77v24.77h-24.77z"/><path d="M665.91 1375.84h24.77v24.77h-24.77z"/><path d="M1755.86 1375.84h24.77v24.77h-24.77z"/><path d="M641.14 1400.61h24.77v24.77h-24.77z"/><path d="M1532.92 1574.01h24.77v24.77h-24.77z"/><path d="M1532.92 1598.78h24.77v24.77h-24.77z"/></g>
<g fill="#A4D230"><path d="M690.68 954.72h24.77v24.77h-24.77z"/><path d="M690.68 979.49h24.77v24.77h-24.77z"/><path d="M715.45 979.49h24.77v24.77h-24.77z"/><path d="M690.68 1004.26h24.77v24.77h-24.77z"/><path d="M715.45 1004.26h24.77v24.77h-24.77z"/><path d="M740.22 1004.26h24.77v24.77h-24.77z"/><path d="M665.91 1029.03h24.77v24.77h-24.77z"/><path d="M690.68 1029.03h24.77v24.77h-24.77z"/><path d="M715.45 1029.03h24.77v24.77h-24.77z"/><path d="M740.22 1029.03h24.77v24.77h-24.77z"/><path d="M864.08 1128.12h24.77v24.77h-24.77z"/><path d="M864.08 1152.89h24.77v24.77h-24.77z"/><path d="M839.31 1177.66h24.77v24.77h-24.77z"/><path d="M864.08 1177.66h24.77v24.77h-24.77z"/><path d="M839.31 1202.43h24.77v24.77h-24.77z"/><path d="M864.08 1202.43h24.77v24.77h-24.77z"/><path d="M814.54 1227.2h24.77v24.77h-24.77z"/><path d="M839.31 1227.2h24.77v24.77h-24.77z"/><path d="M765 1251.98h24.77v24.77h-24.77z"/><path d="M740.22 1276.75h24.77v24.77h-24.77z"/><path d="M665.91 1301.52h24.77v24.77h-24.77z"/><path d="M1632 1301.52h24.77v24.77h-24.77z"/><path d="M665.91 1326.29h24.77v24.77h-24.77z"/><path d="M1557.69 1326.29h24.77v24.77h-24.77z"/><path d="M1632 1326.29h24.77v24.77h-24.77z"/><path d="M1656.78 1326.29h24.77v24.77h-24.77z"/><path d="M1706.32 1326.29h24.77v24.77h-24.77z"/><path d="M1731.09 1326.29h24.77v24.77h-24.77z"/><path d="M665.91 1351.06h24.77v24.77h-24.77z"/><path d="M1557.69 1351.06h24.77v24.77h-24.77z"/><path d="M1582.46 1351.06h24.77v24.77h-24.77z"/><path d="M1632 1351.06h24.77v24.77h-24.77z"/><path d="M1731.09 1351.06h24.77v24.77h-24.77z"/><path d="M1161.34 1375.84h24.77v24.77h-24.77z"/><path d="M1582.46 1375.84h24.77v24.77h-24.77z"/><path d="M1656.78 1375.84h24.77v24.77h-24.77z"/><path d="M1706.32 1375.84h24.77v24.77h-24.77z"/><path d="M1557.69 1400.61h24.77v24.77h-24.77z"/><path d="M1582.46 1400.61h24.77v24.77h-24.77z"/><path d="M1632 1400.61h24.77v24.77h-24.77z"/><path d="M1062.26 1425.38h24.77v24.77h-24.77z"/><path d="M1557.69 1425.38h24.77v24.77h-24.77z"/><path d="M1062.26 1450.15h24.77v24.77h-24.77z"/><path d="M1235.66 1450.15h24.77v24.77h-24.77z"/><path d="M1557.69 1450.15h24.77v24.77h-24.77z"/><path d="M1582.46 1450.15h24.77v24.77h-24.77z"/><path d="M1607.23 1450.15h24.77v24.77h-24.77z"/><path d="M1656.78 1450.15h24.77v24.77h-24.77z"/><path d="M1681.55 1450.15h24.77v24.77h-24.77z"/><path d="M1062.26 1474.92h24.77v24.77h-24.77z"/><path d="M1235.66 1474.92h24.77v24.77h-24.77z"/><path d="M1260.43 1474.92h24.77v24.77h-24.77z"/><path d="M1508.14 1474.92h24.77v24.77h-24.77z"/><path d="M1532.92 1474.92h24.77v24.77h-24.77z"/><path d="M1557.69 1474.92h24.77v24.77h-24.77z"/><path d="M1582.46 1474.92h24.77v24.77h-24.77z"/><path d="M1632 1474.92h24.77v24.77h-24.77z"/><path d="M1656.78 1474.92h24.77v24.77h-24.77z"/><path d="M1681.55 1474.92h24.77v24.77h-24.77z"/><path d="M1235.66 1499.69h24.77v24.77h-24.77z"/><path d="M1260.43 1499.69h24.77v24.77h-24.77z"/><path d="M1309.97 1499.69h24.77v24.77h-24.77z"/><path d="M1508.14 1499.69h24.77v24.77h-24.77z"/><path d="M1532.92 1499.69h24.77v24.77h-24.77z"/><path d="M1557.69 1499.69h24.77v24.77h-24.77z"/><path d="M1656.78 1499.69h24.77v24.77h-24.77z"/><path d="M1210.88 1524.46h24.77v24.77h-24.77z"/><path d="M1235.66 1524.46h24.77v24.77h-24.77z"/><path d="M1260.43 1524.46h24.77v24.77h-24.77z"/><path d="M1285.2 1524.46h24.77v24.77h-24.77z"/><path d="M1309.97 1524.46h24.77v24.77h-24.77z"/><path d="M1508.14 1524.46h24.77v24.77h-24.77z"/><path d="M1532.92 1524.46h24.77v24.77h-24.77z"/><path d="M1557.69 1524.46h24.77v24.77h-24.77z"/><path d="M1607.23 1524.46h24.77v24.77h-24.77z"/><path d="M1656.78 1524.46h24.77v24.77h-24.77z"/><path d="M1681.55 1524.46h24.77v24.77h-24.77z"/><path d="M1210.88 1549.24h24.77v24.77h-24.77z"/><path d="M1235.66 1549.24h24.77v24.77h-24.77z"/><path d="M1260.43 1549.24h24.77v24.77h-24.77z"/><path d="M1285.2 1549.24h24.77v24.77h-24.77z"/><path d="M1309.97 1549.24h24.77v24.77h-24.77z"/><path d="M1508.14 1549.24h24.77v24.77h-24.77z"/><path d="M1532.92 1549.24h24.77v24.77h-24.77z"/><path d="M1557.69 1549.24h24.77v24.77h-24.77z"/><path d="M1582.46 1549.24h24.77v24.77h-24.77z"/><path d="M1681.55 1549.24h24.77v24.77h-24.77z"/><path d="M1210.88 1574.01h24.77v24.77h-24.77z"/><path d="M1235.66 1574.01h24.77v24.77h-24.77z"/><path d="M1260.43 1574.01h24.77v24.77h-24.77z"/><path d="M1285.2 1574.01h24.77v24.77h-24.77z"/><path d="M1309.97 1574.01h24.77v24.77h-24.77z"/><path d="M1334.74 1574.01h24.77v24.77h-24.77z"/><path d="M1483.37 1574.01h24.77v24.77h-24.77z"/><path d="M1508.14 1574.01h24.77v24.77h-24.77z"/><path d="M1557.69 1574.01h24.77v24.77h-24.77z"/><path d="M1582.46 1574.01h24.77v24.77h-24.77z"/><path d="M1607.23 1574.01h24.77v24.77h-24.77z"/><path d="M1656.78 1574.01h24.77v24.77h-24.77z"/><path d="M1136.57 1598.78h24.77v24.77h-24.77z"/><path d="M1161.34 1598.78h24.77v24.77h-24.77z"/><path d="M1186.11 1598.78h24.77v24.77h-24.77z"/><path d="M1210.88 1598.78h24.77v24.77h-24.77z"/><path d="M1260.43 1598.78h24.77v24.77h-24.77z"/><path d="M1285.2 1598.78h24.77v24.77h-24.77z"/><path d="M1309.97 1598.78h24.77v24.77h-24.77z"/><path d="M1483.37 1598.78h24.77v24.77h-24.77z"/><path d="M1607.23 1598.78h24.77v24.77h-24.77z"/><path d="M1656.78 1598.78h24.77v24.77h-24.77z"/><path d="M1681.55 1598.78h24.77v24.77h-24.77z"/><path d="M1210.88 1623.55h24.77v24.77h-24.77z"/><path d="M1260.43 1623.55h24.77v24.77h-24.77z"/><path d="M1508.14 1623.55h24.77v24.77h-24.77z"/><path d="M1557.69 1623.55h24.77v24.77h-24.77z"/><path d="M1582.46 1623.55h24.77v24.77h-24.77z"/><path d="M1607.23 1623.55h24.77v24.77h-24.77z"/><path d="M1632 1623.55h24.77v24.77h-24.77z"/><path d="M1632 1648.32h24.77v24.77h-24.77z"/><path d="M963.17 1896.04h24.77v24.77h-24.77z"/><path d="M987.94 1920.81h24.77v24.77h-24.77z"/></g>
<g fill="#B2D92D"><path d="M888.85 1128.12h24.77v24.77h-24.77z"/><path d="M888.85 1152.89h24.77v24.77h-24.77z"/><path d="M566.82 1251.98h24.77v24.77h-24.77z"/><path d="M789.77 1251.98h24.77v24.77h-24.77z"/><path d="M814.54 1251.98h24.77v24.77h-24.77z"/><path d="M765 1276.75h24.77v24.77h-24.77z"/><path d="M789.77 1276.75h24.77v24.77h-24.77z"/><path d="M814.54 1276.75h24.77v24.77h-24.77z"/><path d="M765 1301.52h24.77v24.77h-24.77z"/><path d="M690.68 1400.61h24.77v24.77h-24.77z"/><path d="M1111.8 1400.61h24.77v24.77h-24.77z"/><path d="M1136.57 1400.61h24.77v24.77h-24.77z"/><path d="M1161.34 1400.61h24.77v24.77h-24.77z"/><path d="M1780.63 1400.61h24.77v24.77h-24.77z"/><path d="M690.68 1425.38h24.77v24.77h-24.77z"/><path d="M1087.03 1425.38h24.77v24.77h-24.77z"/><path d="M1111.8 1425.38h24.77v24.77h-24.77z"/><path d="M1136.57 1425.38h24.77v24.77h-24.77z"/><path d="M1656.78 1425.38h24.77v24.77h-24.77z"/><path d="M1087.03 1450.15h24.77v24.77h-24.77z"/><path d="M1210.88 1450.15h24.77v24.77h-24.77z"/><path d="M1087.03 1474.92h24.77v24.77h-24.77z"/><path d="M1111.8 1474.92h24.77v24.77h-24.77z"/><path d="M1186.11 1474.92h24.77v24.77h-24.77z"/><path d="M1210.88 1474.92h24.77v24.77h-24.77z"/><path d="M1062.26 1499.69h24.77v24.77h-24.77z"/><path d="M1087.03 1499.69h24.77v24.77h-24.77z"/><path d="M1111.8 1499.69h24.77v24.77h-24.77z"/><path d="M1136.57 1499.69h24.77v24.77h-24.77z"/><path d="M1186.11 1499.69h24.77v24.77h-24.77z"/><path d="M1210.88 1499.69h24.77v24.77h-24.77z"/><path d="M1062.26 1524.46h24.77v24.77h-24.77z"/><path d="M1111.8 1524.46h24.77v24.77h-24.77z"/><path d="M1136.57 1524.46h24.77v24.77h-24.77z"/><path d="M1186.11 1524.46h24.77v24.77h-24.77z"/><path d="M1062.26 1549.24h24.77v24.77h-24.77z"/><path d="M1111.8 1549.24h24.77v24.77h-24.77z"/><path d="M1136.57 1549.24h24.77v24.77h-24.77z"/><path d="M1161.34 1549.24h24.77v24.77h-24.77z"/><path d="M1186.11 1549.24h24.77v24.77h-24.77z"/><path d="M1136.57 1574.01h24.77v24.77h-24.77z"/><path d="M1161.34 1574.01h24.77v24.77h-24.77z"/><path d="M1037.48 1821.72h24.77v24.77h-24.77z"/><path d="M1037.48 1846.5h24.77v24.77h-24.77z"/><path d="M1037.48 1871.27h24.77v24.77h-24.77z"/><path d="M987.94 1896.04h24.77v24.77h-24.77z"/><path d="M963.17 1920.81h24.77v24.77h-24.77z"/></g>
<g fill="#C3E128"><path d="M343.88 1152.89h24.77v24.77h-24.77z"/><path d="M467.74 1251.98h24.77v24.77h-24.77z"/><path d="M492.51 1251.98h24.77v24.77h-24.77z"/><path d="M616.37 1251.98h24.77v24.77h-24.77z"/><path d="M393.42 1276.75h24.77v24.77h-24.77z"/><path d="M442.96 1276.75h24.77v24.77h-24.77z"/><path d="M665.91 1276.75h24.77v24.77h-24.77z"/><path d="M442.96 1301.52h24.77v24.77h-24.77z"/><path d="M467.74 1301.52h24.77v24.77h-24.77z"/><path d="M690.68 1301.52h24.77v24.77h-24.77z"/><path d="M690.68 1326.29h24.77v24.77h-24.77z"/><path d="M1136.57 1375.84h24.77v24.77h-24.77z"/><path d="M1161.34 1425.38h24.77v24.77h-24.77z"/><path d="M1136.57 1450.15h24.77v24.77h-24.77z"/><path d="M1161.34 1450.15h24.77v24.77h-24.77z"/><path d="M1186.11 1450.15h24.77v24.77h-24.77z"/><path d="M1161.34 1474.92h24.77v24.77h-24.77z"/><path d="M1780.63 1474.92h24.77v24.77h-24.77z"/><path d="M1161.34 1499.69h24.77v24.77h-24.77z"/><path d="M1037.48 1574.01h24.77v24.77h-24.77z"/><path d="M1062.26 1574.01h24.77v24.77h-24.77z"/><path d="M1087.03 1574.01h24.77v24.77h-24.77z"/><path d="M1111.8 1574.01h24.77v24.77h-24.77z"/></g>
<g fill="#D0E823"><path d="M913.63 632.68h24.77v24.77h-24.77z"/><path d="M368.65 1152.89h24.77v24.77h-24.77z"/><path d="M492.51 1202.43h24.77v24.77h-24.77z"/><path d="M517.28 1202.43h24.77v24.77h-24.77z"/><path d="M492.51 1227.2h24.77v24.77h-24.77z"/><path d="M1731.09 1499.69h24.77v24.77h-24.77z"/><path d="M1706.32 1574.01h24.77v24.77h-24.77z"/><path d="M1706.32 1598.78h24.77v24.77h-24.77z"/><path d="M1755.86 1598.78h24.77v24.77h-24.77z"/><path d="M1731.09 1623.55h24.77v24.77h-24.77z"/><path d="M1755.86 1623.55h24.77v24.77h-24.77z"/><path d="M1780.63 1623.55h24.77v24.77h-24.77z"/><path d="M1607.23 1648.32h24.77v24.77h-24.77z"/><path d="M1681.55 1648.32h24.77v24.77h-24.77z"/><path d="M1632 1673.1h24.77v24.77h-24.77z"/></g>
<g fill="#E1F01C"><path d="M492.51 1004.26h24.77v24.77h-24.77z"/><path d="M319.11 1177.66h24.77v24.77h-24.77z"/><path d="M343.88 1177.66h24.77v24.77h-24.77z"/><path d="M368.65 1177.66h24.77v24.77h-24.77z"/><path d="M393.42 1177.66h24.77v24.77h-24.77z"/><path d="M418.19 1177.66h24.77v24.77h-24.77z"/><path d="M294.33 1202.43h24.77v24.77h-24.77z"/><path d="M319.11 1202.43h24.77v24.77h-24.77z"/><path d="M343.88 1202.43h24.77v24.77h-24.77z"/><path d="M368.65 1202.43h24.77v24.77h-24.77z"/><path d="M393.42 1202.43h24.77v24.77h-24.77z"/><path d="M418.19 1202.43h24.77v24.77h-24.77z"/><path d="M442.96 1202.43h24.77v24.77h-24.77z"/><path d="M467.74 1202.43h24.77v24.77h-24.77z"/><path d="M393.42 1227.2h24.77v24.77h-24.77z"/><path d="M418.19 1227.2h24.77v24.77h-24.77z"/><path d="M442.96 1227.2h24.77v24.77h-24.77z"/><path d="M467.74 1227.2h24.77v24.77h-24.77z"/><path d="M418.19 1326.29h24.77v24.77h-24.77z"/><path d="M1731.09 1549.24h24.77v24.77h-24.77z"/><path d="M1780.63 1574.01h24.77v24.77h-24.77z"/><path d="M1805.41 1598.78h24.77v24.77h-24.77z"/><path d="M1532.92 1648.32h24.77v24.77h-24.77z"/><path d="M1582.46 1648.32h24.77v24.77h-24.77z"/><path d="M1607.23 1673.1h24.77v24.77h-24.77z"/><path d="M1062.26 1871.27h24.77v24.77h-24.77z"/></g>
<g fill="#F2F810"><path d="M492.51 1029.03h24.77v24.77h-24.77z"/><path d="M492.51 1053.8h24.77v24.77h-24.77z"/><path d="M467.74 1078.58h24.77v24.77h-24.77z"/><path d="M492.51 1078.58h24.77v24.77h-24.77z"/><path d="M467.74 1177.66h24.77v24.77h-24.77z"/><path d="M1483.37 1673.1h24.77v24.77h-24.77z"/><path d="M1508.14 1673.1h24.77v24.77h-24.77z"/><path d="M1532.92 1673.1h24.77v24.77h-24.77z"/><path d="M1557.69 1673.1h24.77v24.77h-24.77z"/><path d="M1582.46 1673.1h24.77v24.77h-24.77z"/><path d="M1656.78 1673.1h24.77v24.77h-24.77z"/><path d="M1508.14 1697.87h24.77v24.77h-24.77z"/><path d="M1532.92 1697.87h24.77v24.77h-24.77z"/><path d="M1557.69 1697.87h24.77v24.77h-24.77z"/><path d="M1582.46 1697.87h24.77v24.77h-24.77z"/><path d="M1607.23 1697.87h24.77v24.77h-24.77z"/><path d="M1632 1697.87h24.77v24.77h-24.77z"/><path d="M1656.78 1697.87h24.77v24.77h-24.77z"/><path d="M1681.55 1697.87h24.77v24.77h-24.77z"/><path d="M1508.14 1722.64h24.77v24.77h-24.77z"/><path d="M1532.92 1722.64h24.77v24.77h-24.77z"/><path d="M1557.69 1722.64h24.77v24.77h-24.77z"/><path d="M1582.46 1722.64h24.77v24.77h-24.77z"/><path d="M1607.23 1722.64h24.77v24.77h-24.77z"/><path d="M1632 1722.64h24.77v24.77h-24.77z"/><path d="M1656.78 1722.64h24.77v24.77h-24.77z"/><path d="M1681.55 1722.64h24.77v24.77h-24.77z"/><path d="M1532.92 1747.41h24.77v24.77h-24.77z"/><path d="M1557.69 1747.41h24.77v24.77h-24.77z"/><path d="M1582.46 1747.41h24.77v24.77h-24.77z"/><path d="M1607.23 1747.41h24.77v24.77h-24.77z"/></g>
<g fill="#FFFF00"><path d="M1136.57 682.23h24.77v24.77h-24.77z"/><path d="M1136.57 707h24.77v24.77h-24.77z"/><path d="M1136.57 731.77h24.77v24.77h-24.77z"/><path d="M987.94 781.32h24.77v24.77h-24.77z"/><path d="M492.51 1103.35h24.77v24.77h-24.77z"/><path d="M1681.55 1673.1h24.77v24.77h-24.77z"/><path d="M1012.71 1896.04h24.77v24.77h-24.77z"/></g>
<g fill="#FFE900"><path d="M938.4 682.23h24.77v24.77h-24.77z"/><path d="M963.17 707h24.77v24.77h-24.77z"/></g>
<g fill="#FFDB00"><path d="M987.94 657.46h24.77v24.77h-24.77z"/><path d="M1012.71 657.46h24.77v24.77h-24.77z"/><path d="M1111.8 682.23h24.77v24.77h-24.77z"/><path d="M1111.8 731.77h24.77v24.77h-24.77z"/><path d="M1037.48 781.32h24.77v24.77h-24.77z"/><path d="M467.74 1128.12h24.77v24.77h-24.77z"/><path d="M492.51 1128.12h24.77v24.77h-24.77z"/><path d="M393.42 1400.61h24.77v24.77h-24.77z"/></g>
<g fill="#FFCC00"><path d="M987.94 607.91h24.77v24.77h-24.77z"/><path d="M987.94 632.68h24.77v24.77h-24.77z"/><path d="M1012.71 632.68h24.77v24.77h-24.77z"/><path d="M1037.48 632.68h24.77v24.77h-24.77z"/><path d="M1012.71 682.23h24.77v24.77h-24.77z"/><path d="M1062.26 682.23h24.77v24.77h-24.77z"/><path d="M1087.03 707h24.77v24.77h-24.77z"/><path d="M1111.8 707h24.77v24.77h-24.77z"/><path d="M1012.71 731.77h24.77v24.77h-24.77z"/><path d="M1062.26 731.77h24.77v24.77h-24.77z"/><path d="M1087.03 731.77h24.77v24.77h-24.77z"/><path d="M1012.71 756.54h24.77v24.77h-24.77z"/><path d="M492.51 1152.89h24.77v24.77h-24.77z"/><path d="M368.65 1301.52h24.77v24.77h-24.77z"/><path d="M393.42 1301.52h24.77v24.77h-24.77z"/><path d="M393.42 1326.29h24.77v24.77h-24.77z"/><path d="M418.19 1351.06h24.77v24.77h-24.77z"/></g>
<g fill="#FFBD00"><path d="M1087.03 657.46h24.77v24.77h-24.77z"/><path d="M1012.71 707h24.77v24.77h-24.77z"/><path d="M1062.26 756.54h24.77v24.77h-24.77z"/><path d="M1087.03 756.54h24.77v24.77h-24.77z"/><path d="M492.51 979.49h24.77v24.77h-24.77z"/></g>
<g fill="#FFAD00"><path d="M1037.48 607.91h24.77v24.77h-24.77z"/><path d="M294.33 1351.06h24.77v24.77h-24.77z"/><path d="M319.11 1351.06h24.77v24.77h-24.77z"/><path d="M343.88 1351.06h24.77v24.77h-24.77z"/><path d="M393.42 1351.06h24.77v24.77h-24.77z"/><path d="M343.88 1375.84h24.77v24.77h-24.77z"/><path d="M368.65 1375.84h24.77v24.77h-24.77z"/><path d="M393.42 1375.84h24.77v24.77h-24.77z"/><path d="M343.88 1400.61h24.77v24.77h-24.77z"/><path d="M368.65 1400.61h24.77v24.77h-24.77z"/></g>
<g fill="#FF9D00"><path d="M1012.71 607.91h24.77v24.77h-24.77z"/></g>
<g fill="#FF6400"><path d="M963.17 583.14h24.77v24.77h-24.77z"/><path d="M913.63 607.91h24.77v24.77h-24.77z"/></g>
<g fill="#FF4E00"><path d="M987.94 558.37h24.77v24.77h-24.77z"/></g>
<path d="M962.9 979.8 L955.9 990 L948.3 1003.8 L962.9 1003.8Z" fill="#D3D3D3" stroke="#D3D3D3" stroke-width="0.9" stroke-linejoin="round"/>
<path d="M962.9 1022.7 L969 1019.5 L977.7 1017.7 L987.5 1016.2 L987.5 1028.6 L962.9 1028.6Z" fill="#D3D3D3" stroke="#D3D3D3" stroke-width="0.9" stroke-linejoin="round"/>
<path d="M938.1 1035.2 L929.8 1040.8 L923.3 1047.8 L917.8 1053.5 L938.1 1053.5Z" fill="#D3D3D3" stroke="#D3D3D3" stroke-width="0.9" stroke-linejoin="round"/>
<path d="M913.2 1056.9 L910.2 1060.9 L899.3 1065.7 L886.2 1071.3 L877.5 1078.1 L913.2 1078.1Z" fill="#D3D3D3" stroke="#D3D3D3" stroke-width="0.9" stroke-linejoin="round"/>
<path d="M640.8 1061.3 L652 1064.4 L646.5 1071.8 L640.8 1081.6Z" fill="#D3D3D3" stroke="#D3D3D3" stroke-width="0.9" stroke-linejoin="round"/>
<path d="M616 1160.5 L629.1 1165 L637.8 1166.8 L640.8 1165.9 L640.8 1177.2 L616 1177.2Z" fill="#D3D3D3" stroke="#D3D3D3" stroke-width="0.9" stroke-linejoin="round"/>
<path d="M665.5 1170.9 L681.4 1176.8 L690.3 1181.8 L690.3 1185.1 L679.2 1179 L665.5 1174.2Z" fill="#D3D3D3" stroke="#D3D3D3" stroke-width="0.9" stroke-linejoin="round"/>
<path d="M764.6 1251.5 L789.5 1251.5 L787.1 1254.8 L783.8 1264.6 L777.3 1267.9 L774 1266.1 L764.6 1265.3Z" fill="#D3D3D3" stroke="#D3D3D3" stroke-width="0.9" stroke-linejoin="round"/>
<path d="M1183.4 1003.8 L1185.6 1003.8 L1185.6 1028.6 L1152.5 1028.6 L1153.6 1023.8 L1159 1019.5 L1167.7 1014.7 L1176.5 1007.5 L1180.8 1000.9Z" fill="#D3D3D3" stroke="#D3D3D3" stroke-width="0.9" stroke-linejoin="round"/>
<path d="M1210.5 966.7 L1211.3 969.3 L1200.4 980.7 L1187.4 994.4 L1182.6 1002 L1180.8 1000.3 L1186.1 992.4 L1199.1 978.5Z" fill="#D3D3D3" stroke="#D3D3D3" stroke-width="0.9" stroke-linejoin="round"/>
<path d="M1061.8 1067 L1069.7 1071.8 L1079.5 1078.1 L1061.8 1078.1Z" fill="#D3D3D3" stroke="#D3D3D3" stroke-width="0.9" stroke-linejoin="round"/>
<path d="M1156.9 1078.1 L1160.8 1078.1 L1160.8 1102.9 L1151.8 1102.9 L1152.5 1092.5 L1154.7 1083.7Z" fill="#D3D3D3" stroke="#D3D3D3" stroke-width="0.9" stroke-linejoin="round"/>
<path d="M477.6 1299.4 L480.9 1304.9 L487 1307.5 L492.2 1308.4 L492.2 1326.5 L476.1 1326.5 L474.4 1315.8Z" fill="#D3D3D3" stroke="#D3D3D3" stroke-width="0.9" stroke-linejoin="round"/>
<path d="M517.1 1323.9 L543.7 1339.1 L551.3 1331.5 L554.6 1319.5 L563.3 1322.8 L572 1334.7 L579.6 1351.3 L517.1 1351.3Z" fill="#D3D3D3" stroke="#D3D3D3" stroke-width="0.9" stroke-linejoin="round"/>
<path d="M393.1 1351.3 L417.9 1351.3 L417.9 1352.6 L412.9 1360.2 L404.2 1366.8 L393.1 1372.2Z" fill="#D3D3D3" stroke="#D3D3D3" stroke-width="0.9" stroke-linejoin="round"/>
<path d="M739.8 1301.8 L764.6 1301.8 L764.6 1315.4 L755.5 1311.9 L746.7 1309.7 L739.8 1309Z" fill="#D3D3D3" stroke="#D3D3D3" stroke-width="0.9" stroke-linejoin="round"/>
<path d="M730.4 1308.2 L739.8 1309 L739.8 1326.5 L748.5 1326.5Z" fill="#D3D3D3" stroke="#D3D3D3" stroke-width="0.9" stroke-linejoin="round"/>
<path d="M764.6 1315.8 L777.3 1323.2 L783.8 1326.5 L764.6 1326.5Z" fill="#D3D3D3" stroke="#D3D3D3" stroke-width="0.9" stroke-linejoin="round"/>
<path d="M863.8 1368.5 L863.8 1376.2 L869.9 1379.4 L877.5 1383.3 L888.4 1386 L892.3 1383.8 L893.2 1376.2 L888.4 1376.2 L872 1376.2 L866.6 1371.1Z" fill="#D3D3D3" stroke="#D3D3D3" stroke-width="0.9" stroke-linejoin="round"/>
<path d="M913.2 1352.2 L929.8 1352.2 L940.7 1350 L945.5 1345.6 L949.4 1341.9 L952.7 1345.6 L955.9 1352.2 L961.4 1358.7 L969 1360.9 L975.6 1361.6 L984.3 1366.3 L989.1 1372.9 L991.9 1381.6 L997.3 1392.5 L1003.9 1401.2 L1012.4 1405.6 L1012.4 1409.9 L1000.6 1404.5 L994.1 1394.7 L988.2 1383.8 L986 1376.2 L979.9 1370.7 L973.4 1365.3 L964.7 1363.7 L957 1360.9 L952.7 1353.3 L949.4 1347.8 L946.1 1351.1 L940.7 1354.4 L929.8 1357.2 L923.3 1358.7 L913.2 1356.5Z" fill="#D3D3D3" stroke="#D3D3D3" stroke-width="0.9" stroke-linejoin="round"/>
<path d="M993 1514.5 L1003.9 1511.5 L1012.4 1511 L1012.4 1549.4 L1007.8 1549.4 L1004.3 1536.3 L999.5 1525.4Z" fill="#D3D3D3" stroke="#D3D3D3" stroke-width="0.9" stroke-linejoin="round"/>
<path d="M1012.4 1499.9 L1037 1499.9 L1037 1504.1 L1023.5 1509.3 L1012.4 1511.3Z" fill="#D3D3D3" stroke="#D3D3D3" stroke-width="0.9" stroke-linejoin="round"/>
<path d="M886.2 1305.3 L888.4 1304.2 L888.4 1359.8 L884.5 1359.4 L887.3 1342.4 L888 1320.6 L885.3 1313Z" fill="#D3D3D3" stroke="#D3D3D3" stroke-width="0.9" stroke-linejoin="round"/>
<path d="M995.2 1285.7 L1012.4 1316.2 L1012.4 1277 L987.5 1277Z" fill="#D3D3D3" stroke="#D3D3D3" stroke-width="0.9" stroke-linejoin="round"/>
<path d="M1185.6 1277 L1191.7 1301.8 L1185.6 1301.8Z" fill="#D3D3D3" stroke="#D3D3D3" stroke-width="0.9" stroke-linejoin="round"/>
<path d="M1211.3 1350 L1213.9 1351.3 L1221.6 1376.2 L1200.9 1376.2 L1205.2 1370.7 L1210.5 1360.5Z" fill="#D3D3D3" stroke="#D3D3D3" stroke-width="0.9" stroke-linejoin="round"/>
<path d="M1203 1326.5 L1210.5 1326.5 L1210.5 1346.7 L1208.1 1338Z" fill="#D3D3D3" stroke="#D3D3D3" stroke-width="0.9" stroke-linejoin="round"/>
<path d="M1185.6 1390.8 L1179.7 1395.8 L1172.1 1397.9 L1160.8 1399.7 L1160.8 1400.8 L1185.6 1400.8Z" fill="#D3D3D3" stroke="#D3D3D3" stroke-width="0.9" stroke-linejoin="round"/>
<path d="M1086.5 1508 L1093.7 1511.3 L1094.1 1524.8 L1086.5 1524.8Z" fill="#D3D3D3" stroke="#D3D3D3" stroke-width="0.9" stroke-linejoin="round"/>
<path d="M1111.3 1558.1 L1119.8 1574.2 L1111.3 1574.2Z" fill="#D3D3D3" stroke="#D3D3D3" stroke-width="0.9" stroke-linejoin="round"/>
<path d="M1113.3 1574.2 L1136.2 1574.2 L1136.2 1599.1Z" fill="#D3D3D3" stroke="#D3D3D3" stroke-width="0.9" stroke-linejoin="round"/>
<path d="M1136.2 1599.1 L1160.8 1599.1 L1160.8 1616.9Z" fill="#D3D3D3" stroke="#D3D3D3" stroke-width="0.9" stroke-linejoin="round"/>
<path d="M1167.7 1623.9 L1185.6 1623.9 L1185.6 1634.4Z" fill="#D3D3D3" stroke="#D3D3D3" stroke-width="0.9" stroke-linejoin="round"/>
<path d="M1185.6 1634.4 L1204.8 1641.3 L1210.5 1648.5 L1185.6 1648.5Z" fill="#D3D3D3" stroke="#D3D3D3" stroke-width="0.9" stroke-linejoin="round"/>
<path d="M1334.2 1610.4 L1346.4 1615.9 L1359.1 1623.9 L1334.2 1623.9Z" fill="#D3D3D3" stroke="#D3D3D3" stroke-width="0.9" stroke-linejoin="round"/>
<path d="M1351.2 1623.9 L1359.1 1623.9 L1359.1 1645.3 L1355.2 1634.4Z" fill="#D3D3D3" stroke="#D3D3D3" stroke-width="0.9" stroke-linejoin="round"/>
<path d="M1235.7 1494.9 L1238.6 1496 L1245.1 1523.2 L1260.4 1537.4 L1275 1548.3 L1284.8 1557 L1284.8 1559.4 L1273.4 1551.1 L1258.8 1540 L1242.9 1525.4 L1239.2 1508Z" fill="#D3D3D3" stroke="#D3D3D3" stroke-width="0.9" stroke-linejoin="round"/>
<path d="M1239.7 1648.5 L1242.9 1648.5 L1259.9 1673.4 L1256 1673.4Z" fill="#D3D3D3" stroke="#D3D3D3" stroke-width="0.9" stroke-linejoin="round"/>
<path d="M1805.4 1599.1 L1830.2 1599.1 L1830.2 1613.7 L1805.4 1613.7Z" fill="#D3D3D3" stroke="#D3D3D3" stroke-width="0.9" stroke-linejoin="round"/>
<path d="M1755.9 1599.1 L1780.7 1599.1 L1780.7 1613.7 L1771.8 1613.7 L1767.4 1616.9 L1755.9 1623Z" fill="#D3D3D3" stroke="#D3D3D3" stroke-width="0.9" stroke-linejoin="round"/>
<path d="M1458 1599.1 L1483.5 1599.1 L1483.5 1615.9 L1471.1 1612.6 L1458 1615.9Z" fill="#D3D3D3" stroke="#D3D3D3" stroke-width="0.9" stroke-linejoin="round"/>
<path d="M1483.5 1613.7 L1492.9 1619.1 L1508.1 1623 L1508.1 1623.9 L1483.5 1623.9Z" fill="#D3D3D3" stroke="#D3D3D3" stroke-width="0.9" stroke-linejoin="round"/>
<path d="M1582.4 1639.8 L1607.3 1644.2 L1632.1 1648.5 L1582.4 1648.5Z" fill="#D3D3D3" stroke="#D3D3D3" stroke-width="0.9" stroke-linejoin="round"/>
<path d="M1731 1623.9 L1755.9 1623.9 L1731 1628.3Z" fill="#D3D3D3" stroke="#D3D3D3" stroke-width="0.9" stroke-linejoin="round"/>
<path d="M1037 1846.5 L1061.8 1846.5 L1061.8 1864.8 L1050.1 1857.1 L1037 1851.7Z" fill="#D3D3D3" stroke="#D3D3D3" stroke-width="0.9" stroke-linejoin="round"/>
<path d="M1087.1 1770 L1111.3 1773.2 L1111.3 1783 L1100.2 1777.6 L1091.5 1772.2Z" fill="#D3D3D3" stroke="#D3D3D3" stroke-width="0.9" stroke-linejoin="round"/>
<path d="M1285.4 1772.8 L1309.4 1772.8 L1309.4 1788.5 L1298.5 1782 L1290.9 1775.4Z" fill="#D3D3D3" stroke="#D3D3D3" stroke-width="0.9" stroke-linejoin="round"/>
<path d="M1220 1797.2 L1235.1 1797.2 L1235.1 1812.5 L1228.8 1803.7Z" fill="#D3D3D3" stroke="#D3D3D3" stroke-width="0.9" stroke-linejoin="round"/>
<path d="M1384.6 1764.5 L1390 1762.3 L1389.6 1790.7 L1394.4 1796.8 L1384.6 1796.8Z" fill="#D3D3D3" stroke="#D3D3D3" stroke-width="0.9" stroke-linejoin="round"/>
<path d="M1434.7 1718.8 L1440.1 1724.2 L1441.2 1736.2 L1435.8 1742.7 L1433.4 1744.9 L1433.4 1719.9Z" fill="#D3D3D3" stroke="#D3D3D3" stroke-width="0.9" stroke-linejoin="round"/>
<path d="M1228.8 1698.7 L1235.1 1698.7 L1235.1 1722 L1230.5 1722 L1233.1 1711.1Z" fill="#D3D3D3" stroke="#D3D3D3" stroke-width="0.9" stroke-linejoin="round"/>
<path d="M1207 1748.2 L1210.5 1747.3 L1210.5 1772.2 L1207 1771.1 L1205.9 1760.2Z" fill="#D3D3D3" stroke="#D3D3D3" stroke-width="0.9" stroke-linejoin="round"/>
<path d="M1087.1 1686.1 L1091.5 1689.3 L1092.6 1697.8 L1087.1 1697.8Z" fill="#D3D3D3" stroke="#D3D3D3" stroke-width="0.9" stroke-linejoin="round"/>
<path d="M1012.4 1835.3 L1017 1841.9 L1025.7 1848 L1037 1851.3 L1037 1852.1 L1012.4 1847.3Z" fill="#D3D3D3" stroke="#D3D3D3" stroke-width="0.9" stroke-linejoin="round"/>
<path d="M984.9 707.1 L988 707.1 L988 732 L986.5 730.9 L988 727.4 L987.8 718.1 L986.5 712.9Z" fill="#D3D3D3" stroke="#D3D3D3" stroke-width="0.9" stroke-linejoin="round"/>
<path d="M988 781.4 L992.1 781.4 L991.1 790.6 L989 796.8 L988.6 803 L990.3 806.3 L988 809.2Z" fill="#D3D3D3" stroke="#D3D3D3" stroke-width="0.9" stroke-linejoin="round"/>
<path d="M988 863 L992.1 871.3 L993.6 875.4 L991.1 880 L988 880Z" fill="#D3D3D3" stroke="#D3D3D3" stroke-width="0.9" stroke-linejoin="round"/>
</g>
<path d="M352 2062.9v11.5M134.4 514.4h-11.5M649.26 2062.9v11.5M134.4 811.66h-11.5M946.52 2062.9v11.5M134.4 1108.92h-11.5M1243.78 2062.9v11.5M134.4 1406.18h-11.5M1541.04 2062.9v11.5M134.4 1703.44h-11.5M1838.3 2062.9v11.5M134.4 2000.7h-11.5" stroke="#333" stroke-width="4.45" fill="none"/>
<g font-size="36.67" fill="#4D4D4D">
<text x="113.2" y="527.5" text-anchor="end">1.1°N</text>
<text x="352" y="2109.8" text-anchor="middle">31.7°E</text>
<text x="113.2" y="824.76" text-anchor="end">1.0°N</text>
<text x="649.26" y="2109.8" text-anchor="middle">31.8°E</text>
<text x="113.2" y="1122.02" text-anchor="end">0.9°N</text>
<text x="946.52" y="2109.8" text-anchor="middle">31.9°E</text>
<text x="113.2" y="1419.28" text-anchor="end">0.8°N</text>
<text x="1243.78" y="2109.8" text-anchor="middle">32.0°E</text>
<text x="113.2" y="1716.54" text-anchor="end">0.7°N</text>
<text x="1541.04" y="2109.8" text-anchor="middle">32.1°E</text>
<text x="113.2" y="2013.8" text-anchor="end">0.6°N</text>
<text x="1838.3" y="2109.8" text-anchor="middle">32.2°E</text>
</g>
<text x="134.4" y="323.4" font-size="55" fill="#000">Kiboga District</text>
<text x="134.4" y="389.6" font-size="45.83" fill="#000">2025 Yearly Average</text>
<text x="2026" y="1066.8" font-size="45.83" fill="#000"><tspan letter-spacing="-0.3">Estimated </tspan><tspan font-style="italic">P</tspan><tspan font-style="italic" dx="5">f</tspan><tspan dx="3">PR</tspan></text>
<rect x="2026" y="1094.4" width="72" height="359.6" fill="url(#lg)"/>
<g font-size="36.67" fill="#000">
<text x="2121" y="1467.1">0.00</text>
<text x="2121" y="1377.2">0.25</text>
<text x="2121" y="1287.3">0.50</text>
<text x="2121" y="1197.4">0.75</text>
<text x="2121" y="1107.5">1.00</text>
</g>
<path d="M2026 1454h14.4M2098 1454h-14.4M2026 1364.1h14.4M2098 1364.1h-14.4M2026 1274.2h14.4M2098 1274.2h-14.4M2026 1184.3h14.4M2098 1184.3h-14.4M2026 1094.4h14.4M2098 1094.4h-14.4" stroke="#fff" stroke-width="1.6" fill="none"/>
</svg></body></html>
